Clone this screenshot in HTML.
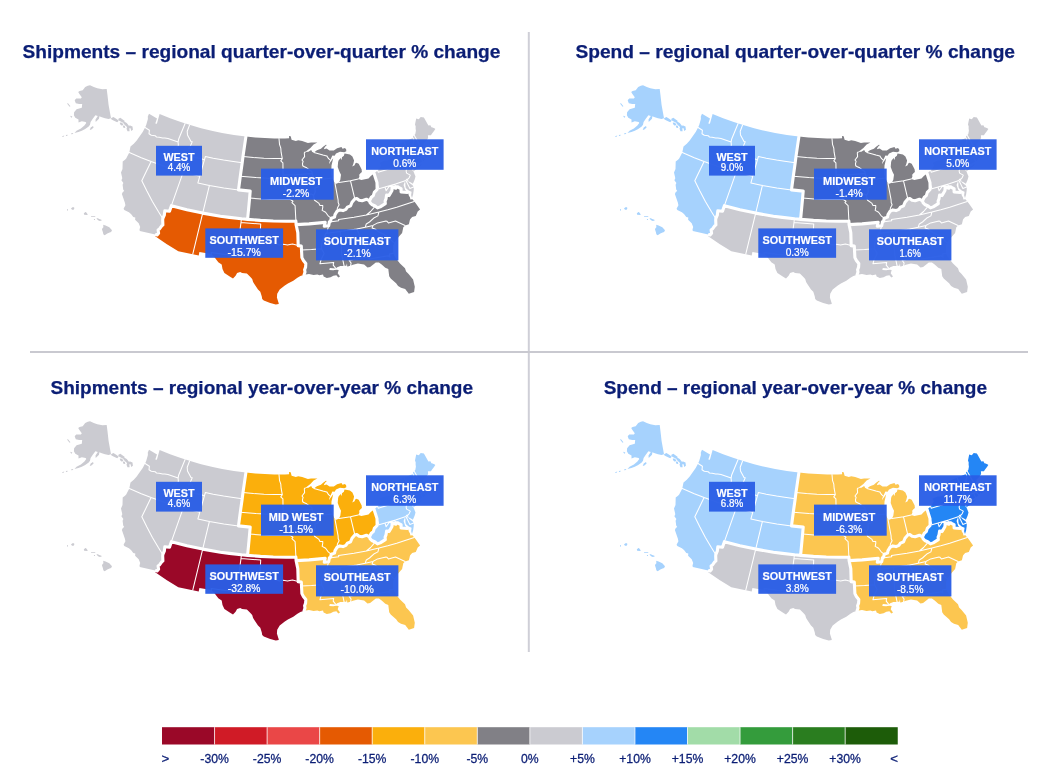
<!DOCTYPE html><html lang="en"><head><meta charset="utf-8"><title>Regional % change maps</title>
<style>html,body{margin:0;padding:0;background:#fff}body{width:1047px;height:780px;overflow:hidden}svg{display:block}text{font-family:"Liberation Sans",Arial,sans-serif}.t{font-weight:700;font-size:18.5px;fill:#0b1e75;stroke:#0b1e75;stroke-width:.25}.ln{font-weight:700;font-size:10.8px;fill:#fff;text-anchor:middle;stroke:#fff;stroke-width:.15}.lv{font-size:10.6px;fill:#fff;text-anchor:middle;stroke:#fff;stroke-width:.22}.lg{font-size:13.3px;fill:#0b1e75;stroke:#0b1e75;stroke-width:.3}.thin{fill:none;stroke:#fff;stroke-width:1.05;stroke-linejoin:round;stroke-linecap:round}.thick{fill:none;stroke:#fff;stroke-width:3.1;stroke-linejoin:round;stroke-linecap:round}.box{fill:#2a5ee6;fill-opacity:.96}</style></head><body>
<svg width="1047" height="780" viewBox="0 0 1047 780">
<rect width="1047" height="780" fill="#fff"/>
<rect x="527.8" y="32" width="2" height="620" fill="#cfcfd7"/>
<rect x="30" y="351" width="998" height="2" fill="#c9c9d0"/>
<g transform="translate(0,0)">
<path d="M156.4,234.7 139.8,231.0 139.5,229.6 140.2,227.0 138.7,223.3 135.1,219.7 135.3,217.6 133.3,217.0 131.0,214.0 128.9,212.2 124.3,210.0 123.6,208.7 125.4,205.2 124.9,202.8 121.9,194.1 122.8,191.9 124.2,191.1 123.2,189.5 122.6,184.8 123.4,183.0 121.4,180.3 122.3,178.3 121.0,172.6 122.5,168.9 122.7,161.6 125.0,159.8 126.2,158.4 129.3,152.5 130.5,146.6 133.8,143.8 136.7,140.5 142.7,132.0 145.1,127.5 146.2,125.1 147.9,118.9 147.8,116.6 149.0,113.7 157.0,118.6 155.3,123.6 156.9,123.8 159.6,114.0 170.1,118.3 180.8,122.1 191.9,125.6 201.1,128.2 212.7,131.1 222.1,133.0 233.9,135.0 245.9,136.6 238.5,189.9 250.2,191.1 247.6,219.4 226.4,217.0 208.6,214.2 190.1,210.4 171.4,205.7 169.5,211.3 164.8,210.8 164.3,215.2 162.8,218.7 162.7,220.2 162.9,225.0 161.7,225.8 159.7,228.7 158.1,229.9 158.6,233.2 157.1,234.9Z" fill="#CBCBD1"/>
<path d="M304.1,274.7 300.4,276.0 297.4,277.7 293.3,280.8 287.9,283.6 284.8,285.6 279.7,289.6 277.2,293.7 276.9,297.5 278.7,303.3 278.7,304.0 275.8,304.6 270.2,303.1 263.8,300.4 262.2,299.1 261.8,296.4 260.3,291.7 258.0,289.5 254.5,284.3 253.1,282.1 252.2,279.0 250.4,277.0 246.9,273.5 242.1,272.9 240.2,272.1 237.1,273.1 235.6,275.8 233.0,278.5 230.5,277.0 224.4,273.0 222.5,268.9 221.7,264.6 218.3,262.3 214.7,257.5 211.4,254.1 199.4,252.1 198.7,255.4 178.3,251.3 166.5,243.9 155.2,236.2 156.4,234.7 157.1,234.9 158.6,233.2 158.1,229.9 159.7,228.7 161.7,225.8 162.9,225.0 162.7,220.2 162.8,218.7 164.3,215.2 164.8,210.8 169.5,211.3 171.4,205.7 186.9,209.7 202.7,213.1 217.5,215.7 232.4,217.8 250.8,219.7 266.9,220.8 283.0,221.2 295.9,221.0 296.1,224.6 297.8,232.6 298.2,245.6 301.3,246.1 301.9,257.6 303.4,260.5 305.8,263.5 305.6,267.1 304.6,269.8 305.0,272.0Z" fill="#E55A02"/>
<path d="M245.9,136.6 255.3,137.5 264.7,138.1 274.2,138.4 285.0,138.4 289.1,138.3 289.0,135.9 290.7,136.3 291.6,139.8 295.8,140.9 298.2,140.3 302.2,141.1 307.9,143.1 311.1,142.6 317.4,142.5 313.6,144.6 310.4,147.9 305.2,152.0 308.3,151.8 311.2,150.1 312.2,152.0 314.0,152.4 316.9,150.3 320.9,148.8 323.1,146.7 325.9,144.8 326.8,145.1 324.8,147.1 323.8,149.2 326.6,148.5 329.5,150.4 333.8,150.4 337.1,148.3 341.5,146.9 342.5,148.7 345.0,148.0 346.2,149.5 346.3,151.2 344.3,152.3 340.0,151.8 336.0,153.6 334.6,155.7 332.4,155.4 329.7,161.3 328.8,164.2 333.2,158.3 331.5,165.5 331.2,174.4 332.4,178.1 334.4,182.5 335.0,183.4 336.4,183.8 338.6,182.8 339.0,182.4 340.3,179.7 341.0,174.7 339.5,171.8 337.7,167.0 338.1,162.1 338.7,160.2 340.8,157.9 341.6,160.3 342.0,157.2 343.9,155.8 344.5,153.5 346.0,153.7 349.9,154.5 352.4,156.5 354.1,160.6 353.5,163.3 352.3,166.4 354.6,165.3 355.2,163.5 356.5,162.7 358.7,163.7 361.6,169.3 361.9,171.9 360.2,173.4 359.2,174.8 359.4,176.8 358.2,179.0 361.4,180.0 368.5,178.4 370.8,176.0 374.1,173.5 377.0,182.6 377.1,189.5 374.3,192.4 373.3,195.6 371.3,197.2 369.5,200.8 366.4,199.2 362.1,200.7 359.1,200.3 356.8,198.5 354.8,198.9 352.0,202.2 350.6,205.8 347.4,207.2 345.9,209.3 343.0,210.6 339.8,209.9 337.0,211.4 335.0,214.6 334.5,217.1 331.2,218.2 330.6,221.1 329.4,221.9 328.7,225.7 324.3,226.2 325.2,222.4 309.1,223.9 296.1,224.6 295.9,221.0 286.2,221.2 273.3,221.0 260.5,220.4 247.6,219.4 250.2,191.1 238.5,189.9Z" fill="#818086"/>
<path d="M407.4,192.5 408.3,193.4 408.9,195.7 409.9,197.3 410.4,199.4 412.4,199.2 415.9,203.5 420.1,209.4 417.7,211.6 415.8,216.0 412.1,216.9 410.0,219.6 408.9,224.2 405.1,225.4 403.3,227.3 402.1,233.0 399.2,236.2 396.4,239.7 394.3,242.8 393.2,245.7 393.3,253.3 394.5,255.9 396.6,259.3 400.0,263.6 405.0,268.2 406.1,271.5 408.6,274.0 413.1,279.6 414.8,286.8 414.1,291.9 408.8,293.8 405.2,289.0 401.0,287.7 398.1,286.0 396.1,283.3 390.7,278.6 389.2,276.2 388.3,268.9 385.3,267.7 381.7,264.6 378.9,262.5 375.8,262.5 370.1,267.0 367.5,267.4 364.1,264.5 357.9,263.6 352.9,264.8 348.7,266.3 347.2,266.5 347.0,263.3 346.3,265.7 344.1,265.8 343.0,266.1 340.4,266.1 337.2,267.3 335.8,268.4 329.8,268.1 329.3,269.9 333.1,270.2 336.4,269.7 338.7,270.1 337.7,273.3 340.0,276.5 338.3,277.5 336.4,275.2 333.4,275.7 330.6,277.2 326.8,278.0 323.6,276.4 323.0,274.5 319.3,275.2 317.4,274.6 313.6,275.0 309.0,273.9 304.1,274.7 305.0,272.0 304.6,269.8 305.6,267.1 305.8,263.5 303.4,260.5 301.9,257.6 301.3,246.1 298.2,245.6 297.8,232.6 296.1,224.6 309.1,223.9 325.2,222.4 324.3,226.2 328.7,225.7 329.4,221.9 330.6,221.1 331.2,218.2 334.5,217.1 335.0,214.6 337.0,211.4 339.8,209.9 343.0,210.6 345.9,209.3 347.4,207.2 350.6,205.8 352.0,202.2 354.8,198.9 356.8,198.5 359.1,200.3 362.1,200.7 366.4,199.2 369.5,200.8 370.0,202.6 371.8,204.5 375.1,206.0 377.5,207.9 380.2,206.9 385.3,203.6 385.1,201.1 386.0,198.9 386.6,195.0 389.1,195.6 392.0,190.4 392.1,187.0 395.9,188.2 396.0,186.7 397.8,186.9 399.5,188.0 401.1,188.6 401.1,192.0Z" fill="#818086"/>
<path d="M374.1,173.5 377.6,170.4 379.3,168.3 380.9,165.0 379.2,162.8 384.5,160.4 386.9,160.4 390.3,159.3 392.1,157.2 393.5,156.1 392.7,154.2 391.3,152.7 393.0,150.6 394.1,147.5 396.4,144.7 413.1,137.9 413.0,136.5 415.3,134.0 415.9,130.8 415.6,128.3 415.7,126.4 415.0,124.5 416.2,118.4 418.6,119.3 419.7,118.3 420.7,117.0 423.9,117.6 428.4,125.6 430.4,125.3 431.4,127.2 432.6,127.4 434.8,128.4 435.3,128.9 434.0,131.1 431.9,133.7 430.9,135.3 427.9,135.3 428.1,137.9 426.5,140.6 425.3,141.9 423.4,143.5 423.5,145.4 423.0,148.1 423.1,149.5 424.9,150.4 423.8,153.2 425.8,153.5 426.9,154.9 428.2,155.7 430.8,154.4 429.8,153.2 428.8,153.1 430.8,153.9 431.4,155.0 428.3,157.6 427.6,156.3 426.5,158.5 425.9,158.8 424.3,160.5 421.4,162.3 417.3,164.4 414.0,167.6 413.8,169.2 412.9,170.3 413.6,171.7 415.5,176.5 414.6,179.7 412.9,183.7 410.5,182.2 407.7,181.0 409.5,183.0 411.5,184.5 412.4,184.9 413.6,187.1 413.8,188.0 413.7,190.3 413.1,194.6 412.0,197.9 411.1,195.3 411.6,191.7 408.7,190.5 405.8,188.1 405.4,185.6 405.4,182.6 404.7,182.1 403.6,185.1 405.1,189.8 407.4,192.5 401.1,192.0 401.1,188.6 399.5,188.0 397.8,186.9 396.0,186.7 395.9,188.2 392.1,187.0 392.0,190.4 389.1,195.6 386.6,195.0 386.0,198.9 385.1,201.1 385.3,203.6 380.2,206.9 377.5,207.9 375.1,206.0 371.8,204.5 370.0,202.6 369.5,200.8 371.3,197.2 373.3,195.6 374.3,192.4 377.1,189.5 377.0,182.6ZM413.1,171.0 414.6,170.4 420.7,166.2 423.3,163.2 421.2,164.6 421.0,163.6 419.7,165.4 417.0,166.6 414.1,168.5 413.1,169.6Z" fill="#CBCBD1"/>
<path d="M90.0,85.3 93.8,87.1 97.3,88.2 102.4,89.3 106.7,89.0 107.4,94.6 108.6,104.9 110.0,112.7 111.0,118.3 108.5,119.1 105.0,118.3 101.1,117.0 99.4,116.3 99.0,118.7 95.7,122.0 95.5,119.6 97.8,115.9 95.4,115.3 92.8,118.7 90.6,122.1 90.0,124.7 88.7,126.4 85.2,129.0 81.8,130.7 78.4,132.0 74.5,132.9 76.6,130.7 80.9,128.6 84.4,125.6 86.3,123.0 85.7,122.1 81.8,121.3 78.5,122.6 78.5,119.6 75.3,117.8 73.9,115.3 74.1,112.2 76.6,109.2 81.8,107.7 82.2,104.1 79.2,104.1 75.8,103.2 74.7,100.2 76.2,98.5 80.9,98.5 81.8,97.2 79.6,94.2 78.2,92.0 79.6,91.0 82.7,90.3 85.2,86.9 87.8,85.8ZM89.7,130.0 90.7,127.5 93.0,126.0 93.6,127.5 91.4,129.6ZM111.0,118.3 113.4,117.1 116.6,119.1 118.8,120.8 117.2,122.3 114.0,120.8 111.5,119.6ZM118.1,118.9 120.3,117.7 122.4,119.2 124.8,121.1 123.2,122.8 120.7,121.6 118.9,120.6ZM119.8,122.5 122.2,122.8 123.4,125.1 121.3,125.6 120.0,124.0ZM124.1,121.6 126.7,123.0 128.7,125.6 127.0,127.1 124.8,125.1 123.2,123.0ZM122.7,125.4 124.8,125.7 125.3,128.0 123.4,127.8ZM127.4,126.1 130.1,125.4 132.5,126.6 132.9,129.7 131.2,130.9 130.6,128.3 129.3,128.3 129.6,131.2 127.5,131.2 126.5,128.7ZM67.0,103.4 68.0,103.2 70.4,106.2 69.6,106.7ZM70.4,115.7 72.3,116.5 71.9,117.7 70.6,117.0ZM71.0,133.5 73.2,132.9 73.0,134.0 71.3,134.3ZM65.9,135.0 67.6,134.7 67.4,135.7 66.0,135.9ZM62.2,136.3 64.2,135.5 63.9,136.4 62.4,137.0ZM67.0,209.3 68.0,209.1 67.8,210.7 67.2,210.7ZM71.0,208.4 72.4,207.2 74.1,207.2 74.3,208.8 73.2,209.9 71.8,209.4ZM83.8,213.6 85.3,211.9 86.1,212.3 87.8,214.5 87.1,214.9 84.2,214.8ZM91.0,216.2 95.2,216.0 95.3,216.7 91.2,216.9ZM93.9,219.1 94.9,219.0 95.0,219.9 94.0,220.0ZM96.5,218.2 97.8,218.2 99.2,219.1 101.4,219.8 101.7,220.6 99.8,221.0 98.1,220.2 96.9,219.1ZM103.2,224.7 105.6,225.6 109.3,227.2 112.0,230.3 111.1,231.9 109.6,232.6 107.3,233.5 104.7,235.2 103.3,234.2 103.0,232.5 102.0,229.6 102.4,228.2 103.4,227.3Z" fill="#CBCBD1"/>
<path class="thin" d="M145.1,127.5 149.4,130.2 149.0,133.7 151.3,135.2 155.1,135.7 156.5,137.0 159.2,137.3 162.6,137.9 164.8,138.0 168.0,138.6 178.1,142.1M185.1,123.5 178.6,139.3 178.1,142.1M178.1,142.1 178.4,145.7 175.8,148.4 172.5,151.6 172.6,153.8 167.0,167.2M129.3,152.5 141.3,157.7 151.1,161.6M151.1,161.6 167.0,167.2M167.0,167.2 183.2,172.1M183.2,172.1 199.8,176.2M151.1,161.6 141.8,180.8 146.9,191.1 152.4,201.4 158.5,211.8 162.8,218.7M183.2,172.1 171.4,205.7M209.4,185.4 202.7,213.1M199.8,176.2 197.9,182.9 209.4,185.4M209.4,185.4 223.8,187.9 238.5,189.9M199.8,176.2 204.4,159.9M204.4,159.9 202.2,158.9 198.0,157.9 194.3,157.3 192.9,153.8 192.0,148.3 188.7,148.4 190.2,146.5 192.2,141.8 191.0,141.6 187.5,134.9 187.2,131.2 189.6,125.0M204.4,159.9 205.4,156.5 213.2,158.2 223.6,160.1 231.6,161.3 242.2,162.7M202.7,213.1 192.7,254.3M211.4,254.1 211.1,252.4 223.8,254.2 236.6,255.6 241.0,222.4M241.0,222.4 241.4,218.8M241.0,222.4 260.7,224.1 259.9,238.3 261.9,239.6 269.4,241.8 272.9,242.0 276.3,243.8 279.5,245.1 283.3,244.3 287.5,245.0 292.4,244.0 298.2,245.6M243.0,156.4 253.5,157.5 263.9,158.2 274.4,158.5 282.3,158.6M279.0,138.5 279.5,144.3 280.8,148.2 281.1,152.2 282.3,158.6M282.3,158.6 280.8,160.9 282.9,162.9 283.1,175.1M283.1,175.1 282.3,177.9 283.2,182.0M240.3,176.2 255.9,177.6 271.5,178.4 274.4,180.1 277.8,179.6 281.2,181.0 283.2,182.0M283.2,182.0 286.5,190.7 287.0,193.9 287.5,195.4M287.5,195.4 290.5,199.5M249.6,198.1 261.2,198.9 270.0,199.4 281.7,199.6 290.5,199.5M290.5,199.5 293.0,201.2 291.9,202.7 295.1,205.7 295.9,221.0M283.1,175.1 296.3,174.7 312.2,173.5M287.5,195.4 298.3,195.0 311.7,194.1 313.6,195.5M305.2,152.0 304.3,152.8 304.6,156.6 302.0,160.0 303.1,161.3 302.5,163.7 302.7,165.7 304.4,166.8 306.7,167.8 309.4,170.0 311.8,171.5 312.2,173.5M312.2,173.5 313.0,176.6 316.3,180.1M316.3,180.1 318.0,182.1 319.6,184.5 317.8,187.1 315.0,188.1 315.2,192.3 313.6,195.5M313.6,195.5 314.0,198.7 314.6,200.3 318.7,203.1 320.0,205.5 322.7,205.4 322.8,207.2 322.2,210.4 325.6,212.2 328.5,216.2 331.2,218.2M316.3,180.1 332.4,178.1M314.0,152.4 322.9,154.9 326.8,155.9 328.6,158.7 330.3,160.2M335.0,183.4 338.1,199.9 338.2,202.5 339.1,204.7 337.4,208.1 337.0,211.4M339.0,182.4 350.5,180.8M350.5,180.8 358.2,179.0M350.5,180.8 354.8,198.9M328.7,225.7 327.6,229.5 327.1,232.3 325.7,233.4M325.7,233.4 324.3,237.3 322.3,241.2 321.4,245.7 321.6,248.7M321.6,248.7 324.1,253.5 321.1,259.6 319.9,263.8 333.7,262.4 333.2,265.1 335.8,268.4M301.5,250.0 311.6,249.5 321.6,248.7M329.4,221.9 338.7,220.7 338.5,219.4 354.0,217.2 366.4,215.0M366.4,215.0 370.6,211.5 373.5,208.2 375.1,206.0M366.4,215.0 378.9,212.1M378.9,212.1 387.8,209.8 396.7,207.2 414.2,201.5M378.9,212.1 377.9,215.9 374.3,217.7 369.5,222.0 366.3,224.0 365.2,227.2M365.2,227.2 356.8,229.0M356.8,229.0 339.7,231.6M339.7,231.6 325.7,233.4M339.7,231.6 340.5,232.3 341.7,254.6 344.1,265.8M356.8,229.0 363.2,243.6 365.4,246.8 366.3,252.7 367.7,257.0M367.7,257.0 349.1,260.3 351.1,263.1 350.6,265.6M367.7,257.0 369.2,259.1 388.4,255.8 389.9,257.0 389.4,254.1 393.3,253.3M394.3,242.8 391.6,240.7 387.9,237.0 383.8,234.4 378.4,231.7 374.9,229.0 372.1,227.9 373.1,225.4M365.2,227.2 373.1,225.4M373.1,225.4 377.6,222.9 386.0,221.1 386.8,221.2 388.4,222.9 395.5,221.0 405.1,225.4M396.0,186.7 394.9,185.0 392.3,185.1 391.3,186.5 389.2,186.4 386.1,190.7 385.0,187.1M379.0,188.8 385.0,187.1M385.0,187.1 395.5,183.9 405.9,180.4M377.0,182.6 379.0,188.8M405.9,180.4 406.6,179.2 407.7,179.1M407.7,181.0 407.7,179.1M405.9,180.4 409.9,188.5 413.6,187.1M407.7,179.1 409.1,177.8 410.3,175.1 406.6,173.1 406.1,170.9 407.3,167.5M407.3,167.5 404.8,166.6 402.1,164.6 388.9,169.1 378.2,172.2 377.6,170.4M407.3,167.5 412.6,168.1 412.9,170.3M414.0,167.6 414.3,165.9 413.7,165.5 411.7,160.6M411.7,160.6 410.9,155.6M410.9,155.6 408.5,150.2 407.8,150.5 406.3,146.7 404.0,141.6M410.9,155.6 415.1,154.1M415.1,154.1 421.1,151.7 422.1,150.0 423.1,149.5M415.1,154.1 413.7,150.4 412.8,144.0 414.1,141.2 413.1,137.9M411.7,160.6 420.7,157.1M420.7,157.1 422.9,156.1 425.9,158.8M420.7,157.1 422.6,161.6M423.0,148.1 420.6,146.6 414.2,135.2"/>
<path class="thick" d="M245.9,136.6 243.0,156.4M243.0,156.4 242.2,162.7M242.2,162.7 240.3,176.2M240.3,176.2 238.5,189.9M238.5,189.9 250.2,191.1 249.6,198.1M249.6,198.1 247.6,219.4M241.4,218.8 247.6,219.4M202.7,213.1 220.4,216.2 229.4,217.4 241.4,218.8M171.4,205.7 186.9,209.7 202.7,213.1M171.4,205.7 169.5,211.3 164.8,210.8 164.3,215.2 162.8,218.7M162.8,218.7 162.7,220.2 162.9,225.0 161.7,225.8 159.7,228.7 158.1,229.9 158.6,233.2 157.1,234.9 156.4,234.7M247.6,219.4 260.5,220.4 273.3,221.0 286.2,221.2 295.9,221.0M295.9,221.0 296.1,224.6M296.1,224.6 297.8,232.6 298.2,245.6M298.2,245.6 301.3,246.1 301.5,250.0M301.5,250.0 301.9,257.6 303.4,260.5 305.8,263.5 305.6,267.1 304.6,269.8 305.0,272.0 304.1,274.7M296.1,224.6 309.1,223.9 325.2,222.4 324.3,226.2 328.7,225.7M331.2,218.2 330.6,221.1 329.4,221.9M329.4,221.9 328.7,225.7M331.2,218.2 334.5,217.1 335.0,214.6 337.0,211.4M337.0,211.4 339.8,209.9 343.0,210.6 345.9,209.3 347.4,207.2 350.6,205.8 352.0,202.2 354.8,198.9M354.8,198.9 356.8,198.5 359.1,200.3 362.1,200.7 366.4,199.2 369.5,200.8M369.5,200.8 371.3,197.2 373.3,195.6 374.3,192.4 377.1,189.5 377.0,182.6M377.0,182.6 374.1,173.5M375.1,206.0 371.8,204.5 370.0,202.6 369.5,200.8M375.1,206.0 377.5,207.9 380.2,206.9 385.3,203.6 385.1,201.1 386.0,198.9 386.6,195.0 389.1,195.6 392.0,190.4 392.1,187.0 395.9,188.2 396.0,186.7M396.0,186.7 397.8,186.9 399.5,188.0 401.1,188.6 401.1,192.0 407.4,192.5"/>
<rect class="box" x="156.0" y="145.8" width="46.0" height="29.8"/>
<text class="ln" x="179.0" y="160.7" textLength="31.1" lengthAdjust="spacingAndGlyphs" style="font-size:10.48px">WEST</text>
<text class="lv" x="179.0" y="170.9" textLength="22.4" lengthAdjust="spacingAndGlyphs" style="font-size:10.28px">4.4%</text>
<rect class="box" x="261.0" y="168.6" width="72.7" height="31.1"/>
<text class="ln" x="296.1" y="184.7" textLength="52.1" lengthAdjust="spacingAndGlyphs">MIDWEST</text>
<text class="lv" x="296.1" y="196.8" textLength="26.5" lengthAdjust="spacingAndGlyphs">-2.2%</text>
<rect class="box" x="366.0" y="139.3" width="77.6" height="30.5"/>
<text class="ln" x="404.8" y="154.9" textLength="67.1" lengthAdjust="spacingAndGlyphs">NORTHEAST</text>
<text class="lv" x="404.8" y="166.8" textLength="23.1" lengthAdjust="spacingAndGlyphs">0.6%</text>
<rect class="box" x="205.3" y="228.4" width="77.8" height="29.4"/>
<text class="ln" x="244.2" y="243.8" textLength="69.4" lengthAdjust="spacingAndGlyphs">SOUTHWEST</text>
<text class="lv" x="244.2" y="255.7" textLength="33.3" lengthAdjust="spacingAndGlyphs">-15.7%</text>
<rect class="box" x="316.0" y="229.3" width="82.4" height="31.1"/>
<text class="ln" x="357.2" y="244.9" textLength="66.7" lengthAdjust="spacingAndGlyphs">SOUTHEAST</text>
<text class="lv" x="357.2" y="256.8" textLength="27.1" lengthAdjust="spacingAndGlyphs">-2.1%</text>
</g>
<text class="t" x="22.5" y="58.3" textLength="477.9" lengthAdjust="spacingAndGlyphs">Shipments – regional quarter-over-quarter % change</text>
<g transform="translate(553,0)">
<path d="M156.4,234.7 139.8,231.0 139.5,229.6 140.2,227.0 138.7,223.3 135.1,219.7 135.3,217.6 133.3,217.0 131.0,214.0 128.9,212.2 124.3,210.0 123.6,208.7 125.4,205.2 124.9,202.8 121.9,194.1 122.8,191.9 124.2,191.1 123.2,189.5 122.6,184.8 123.4,183.0 121.4,180.3 122.3,178.3 121.0,172.6 122.5,168.9 122.7,161.6 125.0,159.8 126.2,158.4 129.3,152.5 130.5,146.6 133.8,143.8 136.7,140.5 142.7,132.0 145.1,127.5 146.2,125.1 147.9,118.9 147.8,116.6 149.0,113.7 157.0,118.6 155.3,123.6 156.9,123.8 159.6,114.0 170.1,118.3 180.8,122.1 191.9,125.6 201.1,128.2 212.7,131.1 222.1,133.0 233.9,135.0 245.9,136.6 238.5,189.9 250.2,191.1 247.6,219.4 226.4,217.0 208.6,214.2 190.1,210.4 171.4,205.7 169.5,211.3 164.8,210.8 164.3,215.2 162.8,218.7 162.7,220.2 162.9,225.0 161.7,225.8 159.7,228.7 158.1,229.9 158.6,233.2 157.1,234.9Z" fill="#A6D2FD"/>
<path d="M304.1,274.7 300.4,276.0 297.4,277.7 293.3,280.8 287.9,283.6 284.8,285.6 279.7,289.6 277.2,293.7 276.9,297.5 278.7,303.3 278.7,304.0 275.8,304.6 270.2,303.1 263.8,300.4 262.2,299.1 261.8,296.4 260.3,291.7 258.0,289.5 254.5,284.3 253.1,282.1 252.2,279.0 250.4,277.0 246.9,273.5 242.1,272.9 240.2,272.1 237.1,273.1 235.6,275.8 233.0,278.5 230.5,277.0 224.4,273.0 222.5,268.9 221.7,264.6 218.3,262.3 214.7,257.5 211.4,254.1 199.4,252.1 198.7,255.4 178.3,251.3 166.5,243.9 155.2,236.2 156.4,234.7 157.1,234.9 158.6,233.2 158.1,229.9 159.7,228.7 161.7,225.8 162.9,225.0 162.7,220.2 162.8,218.7 164.3,215.2 164.8,210.8 169.5,211.3 171.4,205.7 186.9,209.7 202.7,213.1 217.5,215.7 232.4,217.8 250.8,219.7 266.9,220.8 283.0,221.2 295.9,221.0 296.1,224.6 297.8,232.6 298.2,245.6 301.3,246.1 301.9,257.6 303.4,260.5 305.8,263.5 305.6,267.1 304.6,269.8 305.0,272.0Z" fill="#CBCBD1"/>
<path d="M245.9,136.6 255.3,137.5 264.7,138.1 274.2,138.4 285.0,138.4 289.1,138.3 289.0,135.9 290.7,136.3 291.6,139.8 295.8,140.9 298.2,140.3 302.2,141.1 307.9,143.1 311.1,142.6 317.4,142.5 313.6,144.6 310.4,147.9 305.2,152.0 308.3,151.8 311.2,150.1 312.2,152.0 314.0,152.4 316.9,150.3 320.9,148.8 323.1,146.7 325.9,144.8 326.8,145.1 324.8,147.1 323.8,149.2 326.6,148.5 329.5,150.4 333.8,150.4 337.1,148.3 341.5,146.9 342.5,148.7 345.0,148.0 346.2,149.5 346.3,151.2 344.3,152.3 340.0,151.8 336.0,153.6 334.6,155.7 332.4,155.4 329.7,161.3 328.8,164.2 333.2,158.3 331.5,165.5 331.2,174.4 332.4,178.1 334.4,182.5 335.0,183.4 336.4,183.8 338.6,182.8 339.0,182.4 340.3,179.7 341.0,174.7 339.5,171.8 337.7,167.0 338.1,162.1 338.7,160.2 340.8,157.9 341.6,160.3 342.0,157.2 343.9,155.8 344.5,153.5 346.0,153.7 349.9,154.5 352.4,156.5 354.1,160.6 353.5,163.3 352.3,166.4 354.6,165.3 355.2,163.5 356.5,162.7 358.7,163.7 361.6,169.3 361.9,171.9 360.2,173.4 359.2,174.8 359.4,176.8 358.2,179.0 361.4,180.0 368.5,178.4 370.8,176.0 374.1,173.5 377.0,182.6 377.1,189.5 374.3,192.4 373.3,195.6 371.3,197.2 369.5,200.8 366.4,199.2 362.1,200.7 359.1,200.3 356.8,198.5 354.8,198.9 352.0,202.2 350.6,205.8 347.4,207.2 345.9,209.3 343.0,210.6 339.8,209.9 337.0,211.4 335.0,214.6 334.5,217.1 331.2,218.2 330.6,221.1 329.4,221.9 328.7,225.7 324.3,226.2 325.2,222.4 309.1,223.9 296.1,224.6 295.9,221.0 286.2,221.2 273.3,221.0 260.5,220.4 247.6,219.4 250.2,191.1 238.5,189.9Z" fill="#818086"/>
<path d="M407.4,192.5 408.3,193.4 408.9,195.7 409.9,197.3 410.4,199.4 412.4,199.2 415.9,203.5 420.1,209.4 417.7,211.6 415.8,216.0 412.1,216.9 410.0,219.6 408.9,224.2 405.1,225.4 403.3,227.3 402.1,233.0 399.2,236.2 396.4,239.7 394.3,242.8 393.2,245.7 393.3,253.3 394.5,255.9 396.6,259.3 400.0,263.6 405.0,268.2 406.1,271.5 408.6,274.0 413.1,279.6 414.8,286.8 414.1,291.9 408.8,293.8 405.2,289.0 401.0,287.7 398.1,286.0 396.1,283.3 390.7,278.6 389.2,276.2 388.3,268.9 385.3,267.7 381.7,264.6 378.9,262.5 375.8,262.5 370.1,267.0 367.5,267.4 364.1,264.5 357.9,263.6 352.9,264.8 348.7,266.3 347.2,266.5 347.0,263.3 346.3,265.7 344.1,265.8 343.0,266.1 340.4,266.1 337.2,267.3 335.8,268.4 329.8,268.1 329.3,269.9 333.1,270.2 336.4,269.7 338.7,270.1 337.7,273.3 340.0,276.5 338.3,277.5 336.4,275.2 333.4,275.7 330.6,277.2 326.8,278.0 323.6,276.4 323.0,274.5 319.3,275.2 317.4,274.6 313.6,275.0 309.0,273.9 304.1,274.7 305.0,272.0 304.6,269.8 305.6,267.1 305.8,263.5 303.4,260.5 301.9,257.6 301.3,246.1 298.2,245.6 297.8,232.6 296.1,224.6 309.1,223.9 325.2,222.4 324.3,226.2 328.7,225.7 329.4,221.9 330.6,221.1 331.2,218.2 334.5,217.1 335.0,214.6 337.0,211.4 339.8,209.9 343.0,210.6 345.9,209.3 347.4,207.2 350.6,205.8 352.0,202.2 354.8,198.9 356.8,198.5 359.1,200.3 362.1,200.7 366.4,199.2 369.5,200.8 370.0,202.6 371.8,204.5 375.1,206.0 377.5,207.9 380.2,206.9 385.3,203.6 385.1,201.1 386.0,198.9 386.6,195.0 389.1,195.6 392.0,190.4 392.1,187.0 395.9,188.2 396.0,186.7 397.8,186.9 399.5,188.0 401.1,188.6 401.1,192.0Z" fill="#CBCBD1"/>
<path d="M374.1,173.5 377.6,170.4 379.3,168.3 380.9,165.0 379.2,162.8 384.5,160.4 386.9,160.4 390.3,159.3 392.1,157.2 393.5,156.1 392.7,154.2 391.3,152.7 393.0,150.6 394.1,147.5 396.4,144.7 413.1,137.9 413.0,136.5 415.3,134.0 415.9,130.8 415.6,128.3 415.7,126.4 415.0,124.5 416.2,118.4 418.6,119.3 419.7,118.3 420.7,117.0 423.9,117.6 428.4,125.6 430.4,125.3 431.4,127.2 432.6,127.4 434.8,128.4 435.3,128.9 434.0,131.1 431.9,133.7 430.9,135.3 427.9,135.3 428.1,137.9 426.5,140.6 425.3,141.9 423.4,143.5 423.5,145.4 423.0,148.1 423.1,149.5 424.9,150.4 423.8,153.2 425.8,153.5 426.9,154.9 428.2,155.7 430.8,154.4 429.8,153.2 428.8,153.1 430.8,153.9 431.4,155.0 428.3,157.6 427.6,156.3 426.5,158.5 425.9,158.8 424.3,160.5 421.4,162.3 417.3,164.4 414.0,167.6 413.8,169.2 412.9,170.3 413.6,171.7 415.5,176.5 414.6,179.7 412.9,183.7 410.5,182.2 407.7,181.0 409.5,183.0 411.5,184.5 412.4,184.9 413.6,187.1 413.8,188.0 413.7,190.3 413.1,194.6 412.0,197.9 411.1,195.3 411.6,191.7 408.7,190.5 405.8,188.1 405.4,185.6 405.4,182.6 404.7,182.1 403.6,185.1 405.1,189.8 407.4,192.5 401.1,192.0 401.1,188.6 399.5,188.0 397.8,186.9 396.0,186.7 395.9,188.2 392.1,187.0 392.0,190.4 389.1,195.6 386.6,195.0 386.0,198.9 385.1,201.1 385.3,203.6 380.2,206.9 377.5,207.9 375.1,206.0 371.8,204.5 370.0,202.6 369.5,200.8 371.3,197.2 373.3,195.6 374.3,192.4 377.1,189.5 377.0,182.6ZM413.1,171.0 414.6,170.4 420.7,166.2 423.3,163.2 421.2,164.6 421.0,163.6 419.7,165.4 417.0,166.6 414.1,168.5 413.1,169.6Z" fill="#CBCBD1"/>
<path d="M90.0,85.3 93.8,87.1 97.3,88.2 102.4,89.3 106.7,89.0 107.4,94.6 108.6,104.9 110.0,112.7 111.0,118.3 108.5,119.1 105.0,118.3 101.1,117.0 99.4,116.3 99.0,118.7 95.7,122.0 95.5,119.6 97.8,115.9 95.4,115.3 92.8,118.7 90.6,122.1 90.0,124.7 88.7,126.4 85.2,129.0 81.8,130.7 78.4,132.0 74.5,132.9 76.6,130.7 80.9,128.6 84.4,125.6 86.3,123.0 85.7,122.1 81.8,121.3 78.5,122.6 78.5,119.6 75.3,117.8 73.9,115.3 74.1,112.2 76.6,109.2 81.8,107.7 82.2,104.1 79.2,104.1 75.8,103.2 74.7,100.2 76.2,98.5 80.9,98.5 81.8,97.2 79.6,94.2 78.2,92.0 79.6,91.0 82.7,90.3 85.2,86.9 87.8,85.8ZM89.7,130.0 90.7,127.5 93.0,126.0 93.6,127.5 91.4,129.6ZM111.0,118.3 113.4,117.1 116.6,119.1 118.8,120.8 117.2,122.3 114.0,120.8 111.5,119.6ZM118.1,118.9 120.3,117.7 122.4,119.2 124.8,121.1 123.2,122.8 120.7,121.6 118.9,120.6ZM119.8,122.5 122.2,122.8 123.4,125.1 121.3,125.6 120.0,124.0ZM124.1,121.6 126.7,123.0 128.7,125.6 127.0,127.1 124.8,125.1 123.2,123.0ZM122.7,125.4 124.8,125.7 125.3,128.0 123.4,127.8ZM127.4,126.1 130.1,125.4 132.5,126.6 132.9,129.7 131.2,130.9 130.6,128.3 129.3,128.3 129.6,131.2 127.5,131.2 126.5,128.7ZM67.0,103.4 68.0,103.2 70.4,106.2 69.6,106.7ZM70.4,115.7 72.3,116.5 71.9,117.7 70.6,117.0ZM71.0,133.5 73.2,132.9 73.0,134.0 71.3,134.3ZM65.9,135.0 67.6,134.7 67.4,135.7 66.0,135.9ZM62.2,136.3 64.2,135.5 63.9,136.4 62.4,137.0ZM67.0,209.3 68.0,209.1 67.8,210.7 67.2,210.7ZM71.0,208.4 72.4,207.2 74.1,207.2 74.3,208.8 73.2,209.9 71.8,209.4ZM83.8,213.6 85.3,211.9 86.1,212.3 87.8,214.5 87.1,214.9 84.2,214.8ZM91.0,216.2 95.2,216.0 95.3,216.7 91.2,216.9ZM93.9,219.1 94.9,219.0 95.0,219.9 94.0,220.0ZM96.5,218.2 97.8,218.2 99.2,219.1 101.4,219.8 101.7,220.6 99.8,221.0 98.1,220.2 96.9,219.1ZM103.2,224.7 105.6,225.6 109.3,227.2 112.0,230.3 111.1,231.9 109.6,232.6 107.3,233.5 104.7,235.2 103.3,234.2 103.0,232.5 102.0,229.6 102.4,228.2 103.4,227.3Z" fill="#A6D2FD"/>
<path class="thin" d="M145.1,127.5 149.4,130.2 149.0,133.7 151.3,135.2 155.1,135.7 156.5,137.0 159.2,137.3 162.6,137.9 164.8,138.0 168.0,138.6 178.1,142.1M185.1,123.5 178.6,139.3 178.1,142.1M178.1,142.1 178.4,145.7 175.8,148.4 172.5,151.6 172.6,153.8 167.0,167.2M129.3,152.5 141.3,157.7 151.1,161.6M151.1,161.6 167.0,167.2M167.0,167.2 183.2,172.1M183.2,172.1 199.8,176.2M151.1,161.6 141.8,180.8 146.9,191.1 152.4,201.4 158.5,211.8 162.8,218.7M183.2,172.1 171.4,205.7M209.4,185.4 202.7,213.1M199.8,176.2 197.9,182.9 209.4,185.4M209.4,185.4 223.8,187.9 238.5,189.9M199.8,176.2 204.4,159.9M204.4,159.9 202.2,158.9 198.0,157.9 194.3,157.3 192.9,153.8 192.0,148.3 188.7,148.4 190.2,146.5 192.2,141.8 191.0,141.6 187.5,134.9 187.2,131.2 189.6,125.0M204.4,159.9 205.4,156.5 213.2,158.2 223.6,160.1 231.6,161.3 242.2,162.7M202.7,213.1 192.7,254.3M211.4,254.1 211.1,252.4 223.8,254.2 236.6,255.6 241.0,222.4M241.0,222.4 241.4,218.8M241.0,222.4 260.7,224.1 259.9,238.3 261.9,239.6 269.4,241.8 272.9,242.0 276.3,243.8 279.5,245.1 283.3,244.3 287.5,245.0 292.4,244.0 298.2,245.6M243.0,156.4 253.5,157.5 263.9,158.2 274.4,158.5 282.3,158.6M279.0,138.5 279.5,144.3 280.8,148.2 281.1,152.2 282.3,158.6M282.3,158.6 280.8,160.9 282.9,162.9 283.1,175.1M283.1,175.1 282.3,177.9 283.2,182.0M240.3,176.2 255.9,177.6 271.5,178.4 274.4,180.1 277.8,179.6 281.2,181.0 283.2,182.0M283.2,182.0 286.5,190.7 287.0,193.9 287.5,195.4M287.5,195.4 290.5,199.5M249.6,198.1 261.2,198.9 270.0,199.4 281.7,199.6 290.5,199.5M290.5,199.5 293.0,201.2 291.9,202.7 295.1,205.7 295.9,221.0M283.1,175.1 296.3,174.7 312.2,173.5M287.5,195.4 298.3,195.0 311.7,194.1 313.6,195.5M305.2,152.0 304.3,152.8 304.6,156.6 302.0,160.0 303.1,161.3 302.5,163.7 302.7,165.7 304.4,166.8 306.7,167.8 309.4,170.0 311.8,171.5 312.2,173.5M312.2,173.5 313.0,176.6 316.3,180.1M316.3,180.1 318.0,182.1 319.6,184.5 317.8,187.1 315.0,188.1 315.2,192.3 313.6,195.5M313.6,195.5 314.0,198.7 314.6,200.3 318.7,203.1 320.0,205.5 322.7,205.4 322.8,207.2 322.2,210.4 325.6,212.2 328.5,216.2 331.2,218.2M316.3,180.1 332.4,178.1M314.0,152.4 322.9,154.9 326.8,155.9 328.6,158.7 330.3,160.2M335.0,183.4 338.1,199.9 338.2,202.5 339.1,204.7 337.4,208.1 337.0,211.4M339.0,182.4 350.5,180.8M350.5,180.8 358.2,179.0M350.5,180.8 354.8,198.9M328.7,225.7 327.6,229.5 327.1,232.3 325.7,233.4M325.7,233.4 324.3,237.3 322.3,241.2 321.4,245.7 321.6,248.7M321.6,248.7 324.1,253.5 321.1,259.6 319.9,263.8 333.7,262.4 333.2,265.1 335.8,268.4M301.5,250.0 311.6,249.5 321.6,248.7M329.4,221.9 338.7,220.7 338.5,219.4 354.0,217.2 366.4,215.0M366.4,215.0 370.6,211.5 373.5,208.2 375.1,206.0M366.4,215.0 378.9,212.1M378.9,212.1 387.8,209.8 396.7,207.2 414.2,201.5M378.9,212.1 377.9,215.9 374.3,217.7 369.5,222.0 366.3,224.0 365.2,227.2M365.2,227.2 356.8,229.0M356.8,229.0 339.7,231.6M339.7,231.6 325.7,233.4M339.7,231.6 340.5,232.3 341.7,254.6 344.1,265.8M356.8,229.0 363.2,243.6 365.4,246.8 366.3,252.7 367.7,257.0M367.7,257.0 349.1,260.3 351.1,263.1 350.6,265.6M367.7,257.0 369.2,259.1 388.4,255.8 389.9,257.0 389.4,254.1 393.3,253.3M394.3,242.8 391.6,240.7 387.9,237.0 383.8,234.4 378.4,231.7 374.9,229.0 372.1,227.9 373.1,225.4M365.2,227.2 373.1,225.4M373.1,225.4 377.6,222.9 386.0,221.1 386.8,221.2 388.4,222.9 395.5,221.0 405.1,225.4M396.0,186.7 394.9,185.0 392.3,185.1 391.3,186.5 389.2,186.4 386.1,190.7 385.0,187.1M379.0,188.8 385.0,187.1M385.0,187.1 395.5,183.9 405.9,180.4M377.0,182.6 379.0,188.8M405.9,180.4 406.6,179.2 407.7,179.1M407.7,181.0 407.7,179.1M405.9,180.4 409.9,188.5 413.6,187.1M407.7,179.1 409.1,177.8 410.3,175.1 406.6,173.1 406.1,170.9 407.3,167.5M407.3,167.5 404.8,166.6 402.1,164.6 388.9,169.1 378.2,172.2 377.6,170.4M407.3,167.5 412.6,168.1 412.9,170.3M414.0,167.6 414.3,165.9 413.7,165.5 411.7,160.6M411.7,160.6 410.9,155.6M410.9,155.6 408.5,150.2 407.8,150.5 406.3,146.7 404.0,141.6M410.9,155.6 415.1,154.1M415.1,154.1 421.1,151.7 422.1,150.0 423.1,149.5M415.1,154.1 413.7,150.4 412.8,144.0 414.1,141.2 413.1,137.9M411.7,160.6 420.7,157.1M420.7,157.1 422.9,156.1 425.9,158.8M420.7,157.1 422.6,161.6M423.0,148.1 420.6,146.6 414.2,135.2"/>
<path class="thick" d="M245.9,136.6 243.0,156.4M243.0,156.4 242.2,162.7M242.2,162.7 240.3,176.2M240.3,176.2 238.5,189.9M238.5,189.9 250.2,191.1 249.6,198.1M249.6,198.1 247.6,219.4M241.4,218.8 247.6,219.4M202.7,213.1 220.4,216.2 229.4,217.4 241.4,218.8M171.4,205.7 186.9,209.7 202.7,213.1M171.4,205.7 169.5,211.3 164.8,210.8 164.3,215.2 162.8,218.7M162.8,218.7 162.7,220.2 162.9,225.0 161.7,225.8 159.7,228.7 158.1,229.9 158.6,233.2 157.1,234.9 156.4,234.7M247.6,219.4 260.5,220.4 273.3,221.0 286.2,221.2 295.9,221.0M295.9,221.0 296.1,224.6M296.1,224.6 297.8,232.6 298.2,245.6M298.2,245.6 301.3,246.1 301.5,250.0M301.5,250.0 301.9,257.6 303.4,260.5 305.8,263.5 305.6,267.1 304.6,269.8 305.0,272.0 304.1,274.7M296.1,224.6 309.1,223.9 325.2,222.4 324.3,226.2 328.7,225.7M331.2,218.2 330.6,221.1 329.4,221.9M329.4,221.9 328.7,225.7M331.2,218.2 334.5,217.1 335.0,214.6 337.0,211.4M337.0,211.4 339.8,209.9 343.0,210.6 345.9,209.3 347.4,207.2 350.6,205.8 352.0,202.2 354.8,198.9M354.8,198.9 356.8,198.5 359.1,200.3 362.1,200.7 366.4,199.2 369.5,200.8M369.5,200.8 371.3,197.2 373.3,195.6 374.3,192.4 377.1,189.5 377.0,182.6M377.0,182.6 374.1,173.5M375.1,206.0 371.8,204.5 370.0,202.6 369.5,200.8M375.1,206.0 377.5,207.9 380.2,206.9 385.3,203.6 385.1,201.1 386.0,198.9 386.6,195.0 389.1,195.6 392.0,190.4 392.1,187.0 395.9,188.2 396.0,186.7M396.0,186.7 397.8,186.9 399.5,188.0 401.1,188.6 401.1,192.0 407.4,192.5"/>
<rect class="box" x="156.0" y="145.8" width="46.0" height="29.8"/>
<text class="ln" x="179.0" y="160.7" textLength="31.1" lengthAdjust="spacingAndGlyphs" style="font-size:10.48px">WEST</text>
<text class="lv" x="179.0" y="170.9" textLength="22.4" lengthAdjust="spacingAndGlyphs" style="font-size:10.28px">9.0%</text>
<rect class="box" x="261.0" y="168.6" width="72.7" height="31.1"/>
<text class="ln" x="296.1" y="184.7" textLength="52.1" lengthAdjust="spacingAndGlyphs">MIDWEST</text>
<text class="lv" x="296.1" y="196.8" textLength="27.1" lengthAdjust="spacingAndGlyphs">-1.4%</text>
<rect class="box" x="366.0" y="139.3" width="77.6" height="30.5"/>
<text class="ln" x="404.8" y="154.9" textLength="67.1" lengthAdjust="spacingAndGlyphs">NORTHEAST</text>
<text class="lv" x="404.8" y="166.8" textLength="23.1" lengthAdjust="spacingAndGlyphs">5.0%</text>
<rect class="box" x="205.3" y="228.4" width="77.8" height="29.4"/>
<text class="ln" x="244.2" y="243.8" textLength="69.4" lengthAdjust="spacingAndGlyphs">SOUTHWEST</text>
<text class="lv" x="244.2" y="255.7" textLength="23.1" lengthAdjust="spacingAndGlyphs">0.3%</text>
<rect class="box" x="316.0" y="229.3" width="82.4" height="31.1"/>
<text class="ln" x="357.2" y="244.9" textLength="66.7" lengthAdjust="spacingAndGlyphs">SOUTHEAST</text>
<text class="lv" x="357.2" y="256.8" textLength="21.5" lengthAdjust="spacingAndGlyphs">1.6%</text>
</g>
<text class="t" x="575.5" y="58.3" textLength="439.5" lengthAdjust="spacingAndGlyphs">Spend – regional quarter-over-quarter % change</text>
<g transform="translate(0,336)">
<path d="M156.4,234.7 139.8,231.0 139.5,229.6 140.2,227.0 138.7,223.3 135.1,219.7 135.3,217.6 133.3,217.0 131.0,214.0 128.9,212.2 124.3,210.0 123.6,208.7 125.4,205.2 124.9,202.8 121.9,194.1 122.8,191.9 124.2,191.1 123.2,189.5 122.6,184.8 123.4,183.0 121.4,180.3 122.3,178.3 121.0,172.6 122.5,168.9 122.7,161.6 125.0,159.8 126.2,158.4 129.3,152.5 130.5,146.6 133.8,143.8 136.7,140.5 142.7,132.0 145.1,127.5 146.2,125.1 147.9,118.9 147.8,116.6 149.0,113.7 157.0,118.6 155.3,123.6 156.9,123.8 159.6,114.0 170.1,118.3 180.8,122.1 191.9,125.6 201.1,128.2 212.7,131.1 222.1,133.0 233.9,135.0 245.9,136.6 238.5,189.9 250.2,191.1 247.6,219.4 226.4,217.0 208.6,214.2 190.1,210.4 171.4,205.7 169.5,211.3 164.8,210.8 164.3,215.2 162.8,218.7 162.7,220.2 162.9,225.0 161.7,225.8 159.7,228.7 158.1,229.9 158.6,233.2 157.1,234.9Z" fill="#CBCBD1"/>
<path d="M304.1,274.7 300.4,276.0 297.4,277.7 293.3,280.8 287.9,283.6 284.8,285.6 279.7,289.6 277.2,293.7 276.9,297.5 278.7,303.3 278.7,304.0 275.8,304.6 270.2,303.1 263.8,300.4 262.2,299.1 261.8,296.4 260.3,291.7 258.0,289.5 254.5,284.3 253.1,282.1 252.2,279.0 250.4,277.0 246.9,273.5 242.1,272.9 240.2,272.1 237.1,273.1 235.6,275.8 233.0,278.5 230.5,277.0 224.4,273.0 222.5,268.9 221.7,264.6 218.3,262.3 214.7,257.5 211.4,254.1 199.4,252.1 198.7,255.4 178.3,251.3 166.5,243.9 155.2,236.2 156.4,234.7 157.1,234.9 158.6,233.2 158.1,229.9 159.7,228.7 161.7,225.8 162.9,225.0 162.7,220.2 162.8,218.7 164.3,215.2 164.8,210.8 169.5,211.3 171.4,205.7 186.9,209.7 202.7,213.1 217.5,215.7 232.4,217.8 250.8,219.7 266.9,220.8 283.0,221.2 295.9,221.0 296.1,224.6 297.8,232.6 298.2,245.6 301.3,246.1 301.9,257.6 303.4,260.5 305.8,263.5 305.6,267.1 304.6,269.8 305.0,272.0Z" fill="#9A0828"/>
<path d="M245.9,136.6 255.3,137.5 264.7,138.1 274.2,138.4 285.0,138.4 289.1,138.3 289.0,135.9 290.7,136.3 291.6,139.8 295.8,140.9 298.2,140.3 302.2,141.1 307.9,143.1 311.1,142.6 317.4,142.5 313.6,144.6 310.4,147.9 305.2,152.0 308.3,151.8 311.2,150.1 312.2,152.0 314.0,152.4 316.9,150.3 320.9,148.8 323.1,146.7 325.9,144.8 326.8,145.1 324.8,147.1 323.8,149.2 326.6,148.5 329.5,150.4 333.8,150.4 337.1,148.3 341.5,146.9 342.5,148.7 345.0,148.0 346.2,149.5 346.3,151.2 344.3,152.3 340.0,151.8 336.0,153.6 334.6,155.7 332.4,155.4 329.7,161.3 328.8,164.2 333.2,158.3 331.5,165.5 331.2,174.4 332.4,178.1 334.4,182.5 335.0,183.4 336.4,183.8 338.6,182.8 339.0,182.4 340.3,179.7 341.0,174.7 339.5,171.8 337.7,167.0 338.1,162.1 338.7,160.2 340.8,157.9 341.6,160.3 342.0,157.2 343.9,155.8 344.5,153.5 346.0,153.7 349.9,154.5 352.4,156.5 354.1,160.6 353.5,163.3 352.3,166.4 354.6,165.3 355.2,163.5 356.5,162.7 358.7,163.7 361.6,169.3 361.9,171.9 360.2,173.4 359.2,174.8 359.4,176.8 358.2,179.0 361.4,180.0 368.5,178.4 370.8,176.0 374.1,173.5 377.0,182.6 377.1,189.5 374.3,192.4 373.3,195.6 371.3,197.2 369.5,200.8 366.4,199.2 362.1,200.7 359.1,200.3 356.8,198.5 354.8,198.9 352.0,202.2 350.6,205.8 347.4,207.2 345.9,209.3 343.0,210.6 339.8,209.9 337.0,211.4 335.0,214.6 334.5,217.1 331.2,218.2 330.6,221.1 329.4,221.9 328.7,225.7 324.3,226.2 325.2,222.4 309.1,223.9 296.1,224.6 295.9,221.0 286.2,221.2 273.3,221.0 260.5,220.4 247.6,219.4 250.2,191.1 238.5,189.9Z" fill="#FBAF0C"/>
<path d="M407.4,192.5 408.3,193.4 408.9,195.7 409.9,197.3 410.4,199.4 412.4,199.2 415.9,203.5 420.1,209.4 417.7,211.6 415.8,216.0 412.1,216.9 410.0,219.6 408.9,224.2 405.1,225.4 403.3,227.3 402.1,233.0 399.2,236.2 396.4,239.7 394.3,242.8 393.2,245.7 393.3,253.3 394.5,255.9 396.6,259.3 400.0,263.6 405.0,268.2 406.1,271.5 408.6,274.0 413.1,279.6 414.8,286.8 414.1,291.9 408.8,293.8 405.2,289.0 401.0,287.7 398.1,286.0 396.1,283.3 390.7,278.6 389.2,276.2 388.3,268.9 385.3,267.7 381.7,264.6 378.9,262.5 375.8,262.5 370.1,267.0 367.5,267.4 364.1,264.5 357.9,263.6 352.9,264.8 348.7,266.3 347.2,266.5 347.0,263.3 346.3,265.7 344.1,265.8 343.0,266.1 340.4,266.1 337.2,267.3 335.8,268.4 329.8,268.1 329.3,269.9 333.1,270.2 336.4,269.7 338.7,270.1 337.7,273.3 340.0,276.5 338.3,277.5 336.4,275.2 333.4,275.7 330.6,277.2 326.8,278.0 323.6,276.4 323.0,274.5 319.3,275.2 317.4,274.6 313.6,275.0 309.0,273.9 304.1,274.7 305.0,272.0 304.6,269.8 305.6,267.1 305.8,263.5 303.4,260.5 301.9,257.6 301.3,246.1 298.2,245.6 297.8,232.6 296.1,224.6 309.1,223.9 325.2,222.4 324.3,226.2 328.7,225.7 329.4,221.9 330.6,221.1 331.2,218.2 334.5,217.1 335.0,214.6 337.0,211.4 339.8,209.9 343.0,210.6 345.9,209.3 347.4,207.2 350.6,205.8 352.0,202.2 354.8,198.9 356.8,198.5 359.1,200.3 362.1,200.7 366.4,199.2 369.5,200.8 370.0,202.6 371.8,204.5 375.1,206.0 377.5,207.9 380.2,206.9 385.3,203.6 385.1,201.1 386.0,198.9 386.6,195.0 389.1,195.6 392.0,190.4 392.1,187.0 395.9,188.2 396.0,186.7 397.8,186.9 399.5,188.0 401.1,188.6 401.1,192.0Z" fill="#FCC650"/>
<path d="M374.1,173.5 377.6,170.4 379.3,168.3 380.9,165.0 379.2,162.8 384.5,160.4 386.9,160.4 390.3,159.3 392.1,157.2 393.5,156.1 392.7,154.2 391.3,152.7 393.0,150.6 394.1,147.5 396.4,144.7 413.1,137.9 413.0,136.5 415.3,134.0 415.9,130.8 415.6,128.3 415.7,126.4 415.0,124.5 416.2,118.4 418.6,119.3 419.7,118.3 420.7,117.0 423.9,117.6 428.4,125.6 430.4,125.3 431.4,127.2 432.6,127.4 434.8,128.4 435.3,128.9 434.0,131.1 431.9,133.7 430.9,135.3 427.9,135.3 428.1,137.9 426.5,140.6 425.3,141.9 423.4,143.5 423.5,145.4 423.0,148.1 423.1,149.5 424.9,150.4 423.8,153.2 425.8,153.5 426.9,154.9 428.2,155.7 430.8,154.4 429.8,153.2 428.8,153.1 430.8,153.9 431.4,155.0 428.3,157.6 427.6,156.3 426.5,158.5 425.9,158.8 424.3,160.5 421.4,162.3 417.3,164.4 414.0,167.6 413.8,169.2 412.9,170.3 413.6,171.7 415.5,176.5 414.6,179.7 412.9,183.7 410.5,182.2 407.7,181.0 409.5,183.0 411.5,184.5 412.4,184.9 413.6,187.1 413.8,188.0 413.7,190.3 413.1,194.6 412.0,197.9 411.1,195.3 411.6,191.7 408.7,190.5 405.8,188.1 405.4,185.6 405.4,182.6 404.7,182.1 403.6,185.1 405.1,189.8 407.4,192.5 401.1,192.0 401.1,188.6 399.5,188.0 397.8,186.9 396.0,186.7 395.9,188.2 392.1,187.0 392.0,190.4 389.1,195.6 386.6,195.0 386.0,198.9 385.1,201.1 385.3,203.6 380.2,206.9 377.5,207.9 375.1,206.0 371.8,204.5 370.0,202.6 369.5,200.8 371.3,197.2 373.3,195.6 374.3,192.4 377.1,189.5 377.0,182.6ZM413.1,171.0 414.6,170.4 420.7,166.2 423.3,163.2 421.2,164.6 421.0,163.6 419.7,165.4 417.0,166.6 414.1,168.5 413.1,169.6Z" fill="#A6D2FD"/>
<path d="M90.0,85.3 93.8,87.1 97.3,88.2 102.4,89.3 106.7,89.0 107.4,94.6 108.6,104.9 110.0,112.7 111.0,118.3 108.5,119.1 105.0,118.3 101.1,117.0 99.4,116.3 99.0,118.7 95.7,122.0 95.5,119.6 97.8,115.9 95.4,115.3 92.8,118.7 90.6,122.1 90.0,124.7 88.7,126.4 85.2,129.0 81.8,130.7 78.4,132.0 74.5,132.9 76.6,130.7 80.9,128.6 84.4,125.6 86.3,123.0 85.7,122.1 81.8,121.3 78.5,122.6 78.5,119.6 75.3,117.8 73.9,115.3 74.1,112.2 76.6,109.2 81.8,107.7 82.2,104.1 79.2,104.1 75.8,103.2 74.7,100.2 76.2,98.5 80.9,98.5 81.8,97.2 79.6,94.2 78.2,92.0 79.6,91.0 82.7,90.3 85.2,86.9 87.8,85.8ZM89.7,130.0 90.7,127.5 93.0,126.0 93.6,127.5 91.4,129.6ZM111.0,118.3 113.4,117.1 116.6,119.1 118.8,120.8 117.2,122.3 114.0,120.8 111.5,119.6ZM118.1,118.9 120.3,117.7 122.4,119.2 124.8,121.1 123.2,122.8 120.7,121.6 118.9,120.6ZM119.8,122.5 122.2,122.8 123.4,125.1 121.3,125.6 120.0,124.0ZM124.1,121.6 126.7,123.0 128.7,125.6 127.0,127.1 124.8,125.1 123.2,123.0ZM122.7,125.4 124.8,125.7 125.3,128.0 123.4,127.8ZM127.4,126.1 130.1,125.4 132.5,126.6 132.9,129.7 131.2,130.9 130.6,128.3 129.3,128.3 129.6,131.2 127.5,131.2 126.5,128.7ZM67.0,103.4 68.0,103.2 70.4,106.2 69.6,106.7ZM70.4,115.7 72.3,116.5 71.9,117.7 70.6,117.0ZM71.0,133.5 73.2,132.9 73.0,134.0 71.3,134.3ZM65.9,135.0 67.6,134.7 67.4,135.7 66.0,135.9ZM62.2,136.3 64.2,135.5 63.9,136.4 62.4,137.0ZM67.0,209.3 68.0,209.1 67.8,210.7 67.2,210.7ZM71.0,208.4 72.4,207.2 74.1,207.2 74.3,208.8 73.2,209.9 71.8,209.4ZM83.8,213.6 85.3,211.9 86.1,212.3 87.8,214.5 87.1,214.9 84.2,214.8ZM91.0,216.2 95.2,216.0 95.3,216.7 91.2,216.9ZM93.9,219.1 94.9,219.0 95.0,219.9 94.0,220.0ZM96.5,218.2 97.8,218.2 99.2,219.1 101.4,219.8 101.7,220.6 99.8,221.0 98.1,220.2 96.9,219.1ZM103.2,224.7 105.6,225.6 109.3,227.2 112.0,230.3 111.1,231.9 109.6,232.6 107.3,233.5 104.7,235.2 103.3,234.2 103.0,232.5 102.0,229.6 102.4,228.2 103.4,227.3Z" fill="#CBCBD1"/>
<path class="thin" d="M145.1,127.5 149.4,130.2 149.0,133.7 151.3,135.2 155.1,135.7 156.5,137.0 159.2,137.3 162.6,137.9 164.8,138.0 168.0,138.6 178.1,142.1M185.1,123.5 178.6,139.3 178.1,142.1M178.1,142.1 178.4,145.7 175.8,148.4 172.5,151.6 172.6,153.8 167.0,167.2M129.3,152.5 141.3,157.7 151.1,161.6M151.1,161.6 167.0,167.2M167.0,167.2 183.2,172.1M183.2,172.1 199.8,176.2M151.1,161.6 141.8,180.8 146.9,191.1 152.4,201.4 158.5,211.8 162.8,218.7M183.2,172.1 171.4,205.7M209.4,185.4 202.7,213.1M199.8,176.2 197.9,182.9 209.4,185.4M209.4,185.4 223.8,187.9 238.5,189.9M199.8,176.2 204.4,159.9M204.4,159.9 202.2,158.9 198.0,157.9 194.3,157.3 192.9,153.8 192.0,148.3 188.7,148.4 190.2,146.5 192.2,141.8 191.0,141.6 187.5,134.9 187.2,131.2 189.6,125.0M204.4,159.9 205.4,156.5 213.2,158.2 223.6,160.1 231.6,161.3 242.2,162.7M202.7,213.1 192.7,254.3M211.4,254.1 211.1,252.4 223.8,254.2 236.6,255.6 241.0,222.4M241.0,222.4 241.4,218.8M241.0,222.4 260.7,224.1 259.9,238.3 261.9,239.6 269.4,241.8 272.9,242.0 276.3,243.8 279.5,245.1 283.3,244.3 287.5,245.0 292.4,244.0 298.2,245.6M243.0,156.4 253.5,157.5 263.9,158.2 274.4,158.5 282.3,158.6M279.0,138.5 279.5,144.3 280.8,148.2 281.1,152.2 282.3,158.6M282.3,158.6 280.8,160.9 282.9,162.9 283.1,175.1M283.1,175.1 282.3,177.9 283.2,182.0M240.3,176.2 255.9,177.6 271.5,178.4 274.4,180.1 277.8,179.6 281.2,181.0 283.2,182.0M283.2,182.0 286.5,190.7 287.0,193.9 287.5,195.4M287.5,195.4 290.5,199.5M249.6,198.1 261.2,198.9 270.0,199.4 281.7,199.6 290.5,199.5M290.5,199.5 293.0,201.2 291.9,202.7 295.1,205.7 295.9,221.0M283.1,175.1 296.3,174.7 312.2,173.5M287.5,195.4 298.3,195.0 311.7,194.1 313.6,195.5M305.2,152.0 304.3,152.8 304.6,156.6 302.0,160.0 303.1,161.3 302.5,163.7 302.7,165.7 304.4,166.8 306.7,167.8 309.4,170.0 311.8,171.5 312.2,173.5M312.2,173.5 313.0,176.6 316.3,180.1M316.3,180.1 318.0,182.1 319.6,184.5 317.8,187.1 315.0,188.1 315.2,192.3 313.6,195.5M313.6,195.5 314.0,198.7 314.6,200.3 318.7,203.1 320.0,205.5 322.7,205.4 322.8,207.2 322.2,210.4 325.6,212.2 328.5,216.2 331.2,218.2M316.3,180.1 332.4,178.1M314.0,152.4 322.9,154.9 326.8,155.9 328.6,158.7 330.3,160.2M335.0,183.4 338.1,199.9 338.2,202.5 339.1,204.7 337.4,208.1 337.0,211.4M339.0,182.4 350.5,180.8M350.5,180.8 358.2,179.0M350.5,180.8 354.8,198.9M328.7,225.7 327.6,229.5 327.1,232.3 325.7,233.4M325.7,233.4 324.3,237.3 322.3,241.2 321.4,245.7 321.6,248.7M321.6,248.7 324.1,253.5 321.1,259.6 319.9,263.8 333.7,262.4 333.2,265.1 335.8,268.4M301.5,250.0 311.6,249.5 321.6,248.7M329.4,221.9 338.7,220.7 338.5,219.4 354.0,217.2 366.4,215.0M366.4,215.0 370.6,211.5 373.5,208.2 375.1,206.0M366.4,215.0 378.9,212.1M378.9,212.1 387.8,209.8 396.7,207.2 414.2,201.5M378.9,212.1 377.9,215.9 374.3,217.7 369.5,222.0 366.3,224.0 365.2,227.2M365.2,227.2 356.8,229.0M356.8,229.0 339.7,231.6M339.7,231.6 325.7,233.4M339.7,231.6 340.5,232.3 341.7,254.6 344.1,265.8M356.8,229.0 363.2,243.6 365.4,246.8 366.3,252.7 367.7,257.0M367.7,257.0 349.1,260.3 351.1,263.1 350.6,265.6M367.7,257.0 369.2,259.1 388.4,255.8 389.9,257.0 389.4,254.1 393.3,253.3M394.3,242.8 391.6,240.7 387.9,237.0 383.8,234.4 378.4,231.7 374.9,229.0 372.1,227.9 373.1,225.4M365.2,227.2 373.1,225.4M373.1,225.4 377.6,222.9 386.0,221.1 386.8,221.2 388.4,222.9 395.5,221.0 405.1,225.4M396.0,186.7 394.9,185.0 392.3,185.1 391.3,186.5 389.2,186.4 386.1,190.7 385.0,187.1M379.0,188.8 385.0,187.1M385.0,187.1 395.5,183.9 405.9,180.4M377.0,182.6 379.0,188.8M405.9,180.4 406.6,179.2 407.7,179.1M407.7,181.0 407.7,179.1M405.9,180.4 409.9,188.5 413.6,187.1M407.7,179.1 409.1,177.8 410.3,175.1 406.6,173.1 406.1,170.9 407.3,167.5M407.3,167.5 404.8,166.6 402.1,164.6 388.9,169.1 378.2,172.2 377.6,170.4M407.3,167.5 412.6,168.1 412.9,170.3M414.0,167.6 414.3,165.9 413.7,165.5 411.7,160.6M411.7,160.6 410.9,155.6M410.9,155.6 408.5,150.2 407.8,150.5 406.3,146.7 404.0,141.6M410.9,155.6 415.1,154.1M415.1,154.1 421.1,151.7 422.1,150.0 423.1,149.5M415.1,154.1 413.7,150.4 412.8,144.0 414.1,141.2 413.1,137.9M411.7,160.6 420.7,157.1M420.7,157.1 422.9,156.1 425.9,158.8M420.7,157.1 422.6,161.6M423.0,148.1 420.6,146.6 414.2,135.2"/>
<path class="thick" d="M245.9,136.6 243.0,156.4M243.0,156.4 242.2,162.7M242.2,162.7 240.3,176.2M240.3,176.2 238.5,189.9M238.5,189.9 250.2,191.1 249.6,198.1M249.6,198.1 247.6,219.4M241.4,218.8 247.6,219.4M202.7,213.1 220.4,216.2 229.4,217.4 241.4,218.8M171.4,205.7 186.9,209.7 202.7,213.1M171.4,205.7 169.5,211.3 164.8,210.8 164.3,215.2 162.8,218.7M162.8,218.7 162.7,220.2 162.9,225.0 161.7,225.8 159.7,228.7 158.1,229.9 158.6,233.2 157.1,234.9 156.4,234.7M247.6,219.4 260.5,220.4 273.3,221.0 286.2,221.2 295.9,221.0M295.9,221.0 296.1,224.6M296.1,224.6 297.8,232.6 298.2,245.6M298.2,245.6 301.3,246.1 301.5,250.0M301.5,250.0 301.9,257.6 303.4,260.5 305.8,263.5 305.6,267.1 304.6,269.8 305.0,272.0 304.1,274.7M296.1,224.6 309.1,223.9 325.2,222.4 324.3,226.2 328.7,225.7M331.2,218.2 330.6,221.1 329.4,221.9M329.4,221.9 328.7,225.7M331.2,218.2 334.5,217.1 335.0,214.6 337.0,211.4M337.0,211.4 339.8,209.9 343.0,210.6 345.9,209.3 347.4,207.2 350.6,205.8 352.0,202.2 354.8,198.9M354.8,198.9 356.8,198.5 359.1,200.3 362.1,200.7 366.4,199.2 369.5,200.8M369.5,200.8 371.3,197.2 373.3,195.6 374.3,192.4 377.1,189.5 377.0,182.6M377.0,182.6 374.1,173.5M375.1,206.0 371.8,204.5 370.0,202.6 369.5,200.8M375.1,206.0 377.5,207.9 380.2,206.9 385.3,203.6 385.1,201.1 386.0,198.9 386.6,195.0 389.1,195.6 392.0,190.4 392.1,187.0 395.9,188.2 396.0,186.7M396.0,186.7 397.8,186.9 399.5,188.0 401.1,188.6 401.1,192.0 407.4,192.5"/>
<rect class="box" x="156.0" y="145.8" width="46.0" height="29.8"/>
<text class="ln" x="179.0" y="160.7" textLength="31.1" lengthAdjust="spacingAndGlyphs" style="font-size:10.48px">WEST</text>
<text class="lv" x="179.0" y="170.9" textLength="22.4" lengthAdjust="spacingAndGlyphs" style="font-size:10.28px">4.6%</text>
<rect class="box" x="261.0" y="168.6" width="72.7" height="31.1"/>
<text class="ln" x="296.1" y="184.7" textLength="54.6" lengthAdjust="spacingAndGlyphs">MID WEST</text>
<text class="lv" x="296.1" y="196.8" textLength="33.9" lengthAdjust="spacingAndGlyphs">-11.5%</text>
<rect class="box" x="366.0" y="139.3" width="77.6" height="30.5"/>
<text class="ln" x="404.8" y="154.9" textLength="67.1" lengthAdjust="spacingAndGlyphs">NORTHEAST</text>
<text class="lv" x="404.8" y="166.8" textLength="23.1" lengthAdjust="spacingAndGlyphs">6.3%</text>
<rect class="box" x="205.3" y="228.4" width="77.8" height="29.4"/>
<text class="ln" x="244.2" y="243.8" textLength="69.4" lengthAdjust="spacingAndGlyphs">SOUTHWEST</text>
<text class="lv" x="244.2" y="255.7" textLength="32.7" lengthAdjust="spacingAndGlyphs">-32.8%</text>
<rect class="box" x="316.0" y="229.3" width="82.4" height="31.1"/>
<text class="ln" x="357.2" y="244.9" textLength="66.7" lengthAdjust="spacingAndGlyphs">SOUTHEAST</text>
<text class="lv" x="357.2" y="256.8" textLength="33.3" lengthAdjust="spacingAndGlyphs">-10.0%</text>
</g>
<text class="t" x="50.5" y="394.3" textLength="422.5" lengthAdjust="spacingAndGlyphs">Shipments – regional year-over-year % change</text>
<g transform="translate(553,336)">
<path d="M156.4,234.7 139.8,231.0 139.5,229.6 140.2,227.0 138.7,223.3 135.1,219.7 135.3,217.6 133.3,217.0 131.0,214.0 128.9,212.2 124.3,210.0 123.6,208.7 125.4,205.2 124.9,202.8 121.9,194.1 122.8,191.9 124.2,191.1 123.2,189.5 122.6,184.8 123.4,183.0 121.4,180.3 122.3,178.3 121.0,172.6 122.5,168.9 122.7,161.6 125.0,159.8 126.2,158.4 129.3,152.5 130.5,146.6 133.8,143.8 136.7,140.5 142.7,132.0 145.1,127.5 146.2,125.1 147.9,118.9 147.8,116.6 149.0,113.7 157.0,118.6 155.3,123.6 156.9,123.8 159.6,114.0 170.1,118.3 180.8,122.1 191.9,125.6 201.1,128.2 212.7,131.1 222.1,133.0 233.9,135.0 245.9,136.6 238.5,189.9 250.2,191.1 247.6,219.4 226.4,217.0 208.6,214.2 190.1,210.4 171.4,205.7 169.5,211.3 164.8,210.8 164.3,215.2 162.8,218.7 162.7,220.2 162.9,225.0 161.7,225.8 159.7,228.7 158.1,229.9 158.6,233.2 157.1,234.9Z" fill="#A6D2FD"/>
<path d="M304.1,274.7 300.4,276.0 297.4,277.7 293.3,280.8 287.9,283.6 284.8,285.6 279.7,289.6 277.2,293.7 276.9,297.5 278.7,303.3 278.7,304.0 275.8,304.6 270.2,303.1 263.8,300.4 262.2,299.1 261.8,296.4 260.3,291.7 258.0,289.5 254.5,284.3 253.1,282.1 252.2,279.0 250.4,277.0 246.9,273.5 242.1,272.9 240.2,272.1 237.1,273.1 235.6,275.8 233.0,278.5 230.5,277.0 224.4,273.0 222.5,268.9 221.7,264.6 218.3,262.3 214.7,257.5 211.4,254.1 199.4,252.1 198.7,255.4 178.3,251.3 166.5,243.9 155.2,236.2 156.4,234.7 157.1,234.9 158.6,233.2 158.1,229.9 159.7,228.7 161.7,225.8 162.9,225.0 162.7,220.2 162.8,218.7 164.3,215.2 164.8,210.8 169.5,211.3 171.4,205.7 186.9,209.7 202.7,213.1 217.5,215.7 232.4,217.8 250.8,219.7 266.9,220.8 283.0,221.2 295.9,221.0 296.1,224.6 297.8,232.6 298.2,245.6 301.3,246.1 301.9,257.6 303.4,260.5 305.8,263.5 305.6,267.1 304.6,269.8 305.0,272.0Z" fill="#CBCBD1"/>
<path d="M245.9,136.6 255.3,137.5 264.7,138.1 274.2,138.4 285.0,138.4 289.1,138.3 289.0,135.9 290.7,136.3 291.6,139.8 295.8,140.9 298.2,140.3 302.2,141.1 307.9,143.1 311.1,142.6 317.4,142.5 313.6,144.6 310.4,147.9 305.2,152.0 308.3,151.8 311.2,150.1 312.2,152.0 314.0,152.4 316.9,150.3 320.9,148.8 323.1,146.7 325.9,144.8 326.8,145.1 324.8,147.1 323.8,149.2 326.6,148.5 329.5,150.4 333.8,150.4 337.1,148.3 341.5,146.9 342.5,148.7 345.0,148.0 346.2,149.5 346.3,151.2 344.3,152.3 340.0,151.8 336.0,153.6 334.6,155.7 332.4,155.4 329.7,161.3 328.8,164.2 333.2,158.3 331.5,165.5 331.2,174.4 332.4,178.1 334.4,182.5 335.0,183.4 336.4,183.8 338.6,182.8 339.0,182.4 340.3,179.7 341.0,174.7 339.5,171.8 337.7,167.0 338.1,162.1 338.7,160.2 340.8,157.9 341.6,160.3 342.0,157.2 343.9,155.8 344.5,153.5 346.0,153.7 349.9,154.5 352.4,156.5 354.1,160.6 353.5,163.3 352.3,166.4 354.6,165.3 355.2,163.5 356.5,162.7 358.7,163.7 361.6,169.3 361.9,171.9 360.2,173.4 359.2,174.8 359.4,176.8 358.2,179.0 361.4,180.0 368.5,178.4 370.8,176.0 374.1,173.5 377.0,182.6 377.1,189.5 374.3,192.4 373.3,195.6 371.3,197.2 369.5,200.8 366.4,199.2 362.1,200.7 359.1,200.3 356.8,198.5 354.8,198.9 352.0,202.2 350.6,205.8 347.4,207.2 345.9,209.3 343.0,210.6 339.8,209.9 337.0,211.4 335.0,214.6 334.5,217.1 331.2,218.2 330.6,221.1 329.4,221.9 328.7,225.7 324.3,226.2 325.2,222.4 309.1,223.9 296.1,224.6 295.9,221.0 286.2,221.2 273.3,221.0 260.5,220.4 247.6,219.4 250.2,191.1 238.5,189.9Z" fill="#FCC650"/>
<path d="M407.4,192.5 408.3,193.4 408.9,195.7 409.9,197.3 410.4,199.4 412.4,199.2 415.9,203.5 420.1,209.4 417.7,211.6 415.8,216.0 412.1,216.9 410.0,219.6 408.9,224.2 405.1,225.4 403.3,227.3 402.1,233.0 399.2,236.2 396.4,239.7 394.3,242.8 393.2,245.7 393.3,253.3 394.5,255.9 396.6,259.3 400.0,263.6 405.0,268.2 406.1,271.5 408.6,274.0 413.1,279.6 414.8,286.8 414.1,291.9 408.8,293.8 405.2,289.0 401.0,287.7 398.1,286.0 396.1,283.3 390.7,278.6 389.2,276.2 388.3,268.9 385.3,267.7 381.7,264.6 378.9,262.5 375.8,262.5 370.1,267.0 367.5,267.4 364.1,264.5 357.9,263.6 352.9,264.8 348.7,266.3 347.2,266.5 347.0,263.3 346.3,265.7 344.1,265.8 343.0,266.1 340.4,266.1 337.2,267.3 335.8,268.4 329.8,268.1 329.3,269.9 333.1,270.2 336.4,269.7 338.7,270.1 337.7,273.3 340.0,276.5 338.3,277.5 336.4,275.2 333.4,275.7 330.6,277.2 326.8,278.0 323.6,276.4 323.0,274.5 319.3,275.2 317.4,274.6 313.6,275.0 309.0,273.9 304.1,274.7 305.0,272.0 304.6,269.8 305.6,267.1 305.8,263.5 303.4,260.5 301.9,257.6 301.3,246.1 298.2,245.6 297.8,232.6 296.1,224.6 309.1,223.9 325.2,222.4 324.3,226.2 328.7,225.7 329.4,221.9 330.6,221.1 331.2,218.2 334.5,217.1 335.0,214.6 337.0,211.4 339.8,209.9 343.0,210.6 345.9,209.3 347.4,207.2 350.6,205.8 352.0,202.2 354.8,198.9 356.8,198.5 359.1,200.3 362.1,200.7 366.4,199.2 369.5,200.8 370.0,202.6 371.8,204.5 375.1,206.0 377.5,207.9 380.2,206.9 385.3,203.6 385.1,201.1 386.0,198.9 386.6,195.0 389.1,195.6 392.0,190.4 392.1,187.0 395.9,188.2 396.0,186.7 397.8,186.9 399.5,188.0 401.1,188.6 401.1,192.0Z" fill="#FCC650"/>
<path d="M374.1,173.5 377.6,170.4 379.3,168.3 380.9,165.0 379.2,162.8 384.5,160.4 386.9,160.4 390.3,159.3 392.1,157.2 393.5,156.1 392.7,154.2 391.3,152.7 393.0,150.6 394.1,147.5 396.4,144.7 413.1,137.9 413.0,136.5 415.3,134.0 415.9,130.8 415.6,128.3 415.7,126.4 415.0,124.5 416.2,118.4 418.6,119.3 419.7,118.3 420.7,117.0 423.9,117.6 428.4,125.6 430.4,125.3 431.4,127.2 432.6,127.4 434.8,128.4 435.3,128.9 434.0,131.1 431.9,133.7 430.9,135.3 427.9,135.3 428.1,137.9 426.5,140.6 425.3,141.9 423.4,143.5 423.5,145.4 423.0,148.1 423.1,149.5 424.9,150.4 423.8,153.2 425.8,153.5 426.9,154.9 428.2,155.7 430.8,154.4 429.8,153.2 428.8,153.1 430.8,153.9 431.4,155.0 428.3,157.6 427.6,156.3 426.5,158.5 425.9,158.8 424.3,160.5 421.4,162.3 417.3,164.4 414.0,167.6 413.8,169.2 412.9,170.3 413.6,171.7 415.5,176.5 414.6,179.7 412.9,183.7 410.5,182.2 407.7,181.0 409.5,183.0 411.5,184.5 412.4,184.9 413.6,187.1 413.8,188.0 413.7,190.3 413.1,194.6 412.0,197.9 411.1,195.3 411.6,191.7 408.7,190.5 405.8,188.1 405.4,185.6 405.4,182.6 404.7,182.1 403.6,185.1 405.1,189.8 407.4,192.5 401.1,192.0 401.1,188.6 399.5,188.0 397.8,186.9 396.0,186.7 395.9,188.2 392.1,187.0 392.0,190.4 389.1,195.6 386.6,195.0 386.0,198.9 385.1,201.1 385.3,203.6 380.2,206.9 377.5,207.9 375.1,206.0 371.8,204.5 370.0,202.6 369.5,200.8 371.3,197.2 373.3,195.6 374.3,192.4 377.1,189.5 377.0,182.6ZM413.1,171.0 414.6,170.4 420.7,166.2 423.3,163.2 421.2,164.6 421.0,163.6 419.7,165.4 417.0,166.6 414.1,168.5 413.1,169.6Z" fill="#2486F5"/>
<path d="M90.0,85.3 93.8,87.1 97.3,88.2 102.4,89.3 106.7,89.0 107.4,94.6 108.6,104.9 110.0,112.7 111.0,118.3 108.5,119.1 105.0,118.3 101.1,117.0 99.4,116.3 99.0,118.7 95.7,122.0 95.5,119.6 97.8,115.9 95.4,115.3 92.8,118.7 90.6,122.1 90.0,124.7 88.7,126.4 85.2,129.0 81.8,130.7 78.4,132.0 74.5,132.9 76.6,130.7 80.9,128.6 84.4,125.6 86.3,123.0 85.7,122.1 81.8,121.3 78.5,122.6 78.5,119.6 75.3,117.8 73.9,115.3 74.1,112.2 76.6,109.2 81.8,107.7 82.2,104.1 79.2,104.1 75.8,103.2 74.7,100.2 76.2,98.5 80.9,98.5 81.8,97.2 79.6,94.2 78.2,92.0 79.6,91.0 82.7,90.3 85.2,86.9 87.8,85.8ZM89.7,130.0 90.7,127.5 93.0,126.0 93.6,127.5 91.4,129.6ZM111.0,118.3 113.4,117.1 116.6,119.1 118.8,120.8 117.2,122.3 114.0,120.8 111.5,119.6ZM118.1,118.9 120.3,117.7 122.4,119.2 124.8,121.1 123.2,122.8 120.7,121.6 118.9,120.6ZM119.8,122.5 122.2,122.8 123.4,125.1 121.3,125.6 120.0,124.0ZM124.1,121.6 126.7,123.0 128.7,125.6 127.0,127.1 124.8,125.1 123.2,123.0ZM122.7,125.4 124.8,125.7 125.3,128.0 123.4,127.8ZM127.4,126.1 130.1,125.4 132.5,126.6 132.9,129.7 131.2,130.9 130.6,128.3 129.3,128.3 129.6,131.2 127.5,131.2 126.5,128.7ZM67.0,103.4 68.0,103.2 70.4,106.2 69.6,106.7ZM70.4,115.7 72.3,116.5 71.9,117.7 70.6,117.0ZM71.0,133.5 73.2,132.9 73.0,134.0 71.3,134.3ZM65.9,135.0 67.6,134.7 67.4,135.7 66.0,135.9ZM62.2,136.3 64.2,135.5 63.9,136.4 62.4,137.0ZM67.0,209.3 68.0,209.1 67.8,210.7 67.2,210.7ZM71.0,208.4 72.4,207.2 74.1,207.2 74.3,208.8 73.2,209.9 71.8,209.4ZM83.8,213.6 85.3,211.9 86.1,212.3 87.8,214.5 87.1,214.9 84.2,214.8ZM91.0,216.2 95.2,216.0 95.3,216.7 91.2,216.9ZM93.9,219.1 94.9,219.0 95.0,219.9 94.0,220.0ZM96.5,218.2 97.8,218.2 99.2,219.1 101.4,219.8 101.7,220.6 99.8,221.0 98.1,220.2 96.9,219.1ZM103.2,224.7 105.6,225.6 109.3,227.2 112.0,230.3 111.1,231.9 109.6,232.6 107.3,233.5 104.7,235.2 103.3,234.2 103.0,232.5 102.0,229.6 102.4,228.2 103.4,227.3Z" fill="#A6D2FD"/>
<path class="thin" d="M145.1,127.5 149.4,130.2 149.0,133.7 151.3,135.2 155.1,135.7 156.5,137.0 159.2,137.3 162.6,137.9 164.8,138.0 168.0,138.6 178.1,142.1M185.1,123.5 178.6,139.3 178.1,142.1M178.1,142.1 178.4,145.7 175.8,148.4 172.5,151.6 172.6,153.8 167.0,167.2M129.3,152.5 141.3,157.7 151.1,161.6M151.1,161.6 167.0,167.2M167.0,167.2 183.2,172.1M183.2,172.1 199.8,176.2M151.1,161.6 141.8,180.8 146.9,191.1 152.4,201.4 158.5,211.8 162.8,218.7M183.2,172.1 171.4,205.7M209.4,185.4 202.7,213.1M199.8,176.2 197.9,182.9 209.4,185.4M209.4,185.4 223.8,187.9 238.5,189.9M199.8,176.2 204.4,159.9M204.4,159.9 202.2,158.9 198.0,157.9 194.3,157.3 192.9,153.8 192.0,148.3 188.7,148.4 190.2,146.5 192.2,141.8 191.0,141.6 187.5,134.9 187.2,131.2 189.6,125.0M204.4,159.9 205.4,156.5 213.2,158.2 223.6,160.1 231.6,161.3 242.2,162.7M202.7,213.1 192.7,254.3M211.4,254.1 211.1,252.4 223.8,254.2 236.6,255.6 241.0,222.4M241.0,222.4 241.4,218.8M241.0,222.4 260.7,224.1 259.9,238.3 261.9,239.6 269.4,241.8 272.9,242.0 276.3,243.8 279.5,245.1 283.3,244.3 287.5,245.0 292.4,244.0 298.2,245.6M243.0,156.4 253.5,157.5 263.9,158.2 274.4,158.5 282.3,158.6M279.0,138.5 279.5,144.3 280.8,148.2 281.1,152.2 282.3,158.6M282.3,158.6 280.8,160.9 282.9,162.9 283.1,175.1M283.1,175.1 282.3,177.9 283.2,182.0M240.3,176.2 255.9,177.6 271.5,178.4 274.4,180.1 277.8,179.6 281.2,181.0 283.2,182.0M283.2,182.0 286.5,190.7 287.0,193.9 287.5,195.4M287.5,195.4 290.5,199.5M249.6,198.1 261.2,198.9 270.0,199.4 281.7,199.6 290.5,199.5M290.5,199.5 293.0,201.2 291.9,202.7 295.1,205.7 295.9,221.0M283.1,175.1 296.3,174.7 312.2,173.5M287.5,195.4 298.3,195.0 311.7,194.1 313.6,195.5M305.2,152.0 304.3,152.8 304.6,156.6 302.0,160.0 303.1,161.3 302.5,163.7 302.7,165.7 304.4,166.8 306.7,167.8 309.4,170.0 311.8,171.5 312.2,173.5M312.2,173.5 313.0,176.6 316.3,180.1M316.3,180.1 318.0,182.1 319.6,184.5 317.8,187.1 315.0,188.1 315.2,192.3 313.6,195.5M313.6,195.5 314.0,198.7 314.6,200.3 318.7,203.1 320.0,205.5 322.7,205.4 322.8,207.2 322.2,210.4 325.6,212.2 328.5,216.2 331.2,218.2M316.3,180.1 332.4,178.1M314.0,152.4 322.9,154.9 326.8,155.9 328.6,158.7 330.3,160.2M335.0,183.4 338.1,199.9 338.2,202.5 339.1,204.7 337.4,208.1 337.0,211.4M339.0,182.4 350.5,180.8M350.5,180.8 358.2,179.0M350.5,180.8 354.8,198.9M328.7,225.7 327.6,229.5 327.1,232.3 325.7,233.4M325.7,233.4 324.3,237.3 322.3,241.2 321.4,245.7 321.6,248.7M321.6,248.7 324.1,253.5 321.1,259.6 319.9,263.8 333.7,262.4 333.2,265.1 335.8,268.4M301.5,250.0 311.6,249.5 321.6,248.7M329.4,221.9 338.7,220.7 338.5,219.4 354.0,217.2 366.4,215.0M366.4,215.0 370.6,211.5 373.5,208.2 375.1,206.0M366.4,215.0 378.9,212.1M378.9,212.1 387.8,209.8 396.7,207.2 414.2,201.5M378.9,212.1 377.9,215.9 374.3,217.7 369.5,222.0 366.3,224.0 365.2,227.2M365.2,227.2 356.8,229.0M356.8,229.0 339.7,231.6M339.7,231.6 325.7,233.4M339.7,231.6 340.5,232.3 341.7,254.6 344.1,265.8M356.8,229.0 363.2,243.6 365.4,246.8 366.3,252.7 367.7,257.0M367.7,257.0 349.1,260.3 351.1,263.1 350.6,265.6M367.7,257.0 369.2,259.1 388.4,255.8 389.9,257.0 389.4,254.1 393.3,253.3M394.3,242.8 391.6,240.7 387.9,237.0 383.8,234.4 378.4,231.7 374.9,229.0 372.1,227.9 373.1,225.4M365.2,227.2 373.1,225.4M373.1,225.4 377.6,222.9 386.0,221.1 386.8,221.2 388.4,222.9 395.5,221.0 405.1,225.4M396.0,186.7 394.9,185.0 392.3,185.1 391.3,186.5 389.2,186.4 386.1,190.7 385.0,187.1M379.0,188.8 385.0,187.1M385.0,187.1 395.5,183.9 405.9,180.4M377.0,182.6 379.0,188.8M405.9,180.4 406.6,179.2 407.7,179.1M407.7,181.0 407.7,179.1M405.9,180.4 409.9,188.5 413.6,187.1M407.7,179.1 409.1,177.8 410.3,175.1 406.6,173.1 406.1,170.9 407.3,167.5M407.3,167.5 404.8,166.6 402.1,164.6 388.9,169.1 378.2,172.2 377.6,170.4M407.3,167.5 412.6,168.1 412.9,170.3M414.0,167.6 414.3,165.9 413.7,165.5 411.7,160.6M411.7,160.6 410.9,155.6M410.9,155.6 408.5,150.2 407.8,150.5 406.3,146.7 404.0,141.6M410.9,155.6 415.1,154.1M415.1,154.1 421.1,151.7 422.1,150.0 423.1,149.5M415.1,154.1 413.7,150.4 412.8,144.0 414.1,141.2 413.1,137.9M411.7,160.6 420.7,157.1M420.7,157.1 422.9,156.1 425.9,158.8M420.7,157.1 422.6,161.6M423.0,148.1 420.6,146.6 414.2,135.2"/>
<path class="thick" d="M245.9,136.6 243.0,156.4M243.0,156.4 242.2,162.7M242.2,162.7 240.3,176.2M240.3,176.2 238.5,189.9M238.5,189.9 250.2,191.1 249.6,198.1M249.6,198.1 247.6,219.4M241.4,218.8 247.6,219.4M202.7,213.1 220.4,216.2 229.4,217.4 241.4,218.8M171.4,205.7 186.9,209.7 202.7,213.1M171.4,205.7 169.5,211.3 164.8,210.8 164.3,215.2 162.8,218.7M162.8,218.7 162.7,220.2 162.9,225.0 161.7,225.8 159.7,228.7 158.1,229.9 158.6,233.2 157.1,234.9 156.4,234.7M247.6,219.4 260.5,220.4 273.3,221.0 286.2,221.2 295.9,221.0M295.9,221.0 296.1,224.6M296.1,224.6 297.8,232.6 298.2,245.6M298.2,245.6 301.3,246.1 301.5,250.0M301.5,250.0 301.9,257.6 303.4,260.5 305.8,263.5 305.6,267.1 304.6,269.8 305.0,272.0 304.1,274.7M296.1,224.6 309.1,223.9 325.2,222.4 324.3,226.2 328.7,225.7M331.2,218.2 330.6,221.1 329.4,221.9M329.4,221.9 328.7,225.7M331.2,218.2 334.5,217.1 335.0,214.6 337.0,211.4M337.0,211.4 339.8,209.9 343.0,210.6 345.9,209.3 347.4,207.2 350.6,205.8 352.0,202.2 354.8,198.9M354.8,198.9 356.8,198.5 359.1,200.3 362.1,200.7 366.4,199.2 369.5,200.8M369.5,200.8 371.3,197.2 373.3,195.6 374.3,192.4 377.1,189.5 377.0,182.6M377.0,182.6 374.1,173.5M375.1,206.0 371.8,204.5 370.0,202.6 369.5,200.8M375.1,206.0 377.5,207.9 380.2,206.9 385.3,203.6 385.1,201.1 386.0,198.9 386.6,195.0 389.1,195.6 392.0,190.4 392.1,187.0 395.9,188.2 396.0,186.7M396.0,186.7 397.8,186.9 399.5,188.0 401.1,188.6 401.1,192.0 407.4,192.5"/>
<rect class="box" x="156.0" y="145.8" width="46.0" height="29.8"/>
<text class="ln" x="179.0" y="160.7" textLength="31.1" lengthAdjust="spacingAndGlyphs" style="font-size:10.48px">WEST</text>
<text class="lv" x="179.0" y="170.9" textLength="22.4" lengthAdjust="spacingAndGlyphs" style="font-size:10.28px">6.8%</text>
<rect class="box" x="261.0" y="168.6" width="72.7" height="31.1"/>
<text class="ln" x="296.1" y="184.7" textLength="52.1" lengthAdjust="spacingAndGlyphs">MIDWEST</text>
<text class="lv" x="296.1" y="196.8" textLength="26.5" lengthAdjust="spacingAndGlyphs">-6.3%</text>
<rect class="box" x="366.0" y="139.3" width="77.6" height="30.5"/>
<text class="ln" x="404.8" y="154.9" textLength="67.1" lengthAdjust="spacingAndGlyphs">NORTHEAST</text>
<text class="lv" x="404.8" y="166.8" textLength="28.3" lengthAdjust="spacingAndGlyphs">11.7%</text>
<rect class="box" x="205.3" y="228.4" width="77.8" height="29.4"/>
<text class="ln" x="244.2" y="243.8" textLength="69.4" lengthAdjust="spacingAndGlyphs">SOUTHWEST</text>
<text class="lv" x="244.2" y="255.7" textLength="23.1" lengthAdjust="spacingAndGlyphs">3.8%</text>
<rect class="box" x="316.0" y="229.3" width="82.4" height="31.1"/>
<text class="ln" x="357.2" y="244.9" textLength="66.7" lengthAdjust="spacingAndGlyphs">SOUTHEAST</text>
<text class="lv" x="357.2" y="256.8" textLength="26.5" lengthAdjust="spacingAndGlyphs">-8.5%</text>
</g>
<text class="t" x="603.7" y="394.3" textLength="383.3" lengthAdjust="spacingAndGlyphs">Spend – regional year-over-year % change</text>
<rect x="162.00" y="727.2" width="52.60" height="17.3" fill="#9A0828"/>
<rect x="214.55" y="727.2" width="52.60" height="17.3" fill="#D01B26"/>
<rect x="267.10" y="727.2" width="52.60" height="17.3" fill="#EA4747"/>
<rect x="319.65" y="727.2" width="52.60" height="17.3" fill="#E55A02"/>
<rect x="372.20" y="727.2" width="52.60" height="17.3" fill="#FBAF0C"/>
<rect x="424.75" y="727.2" width="52.60" height="17.3" fill="#FCC650"/>
<rect x="477.30" y="727.2" width="52.60" height="17.3" fill="#818086"/>
<rect x="529.85" y="727.2" width="52.60" height="17.3" fill="#CBCBD1"/>
<rect x="582.40" y="727.2" width="52.60" height="17.3" fill="#A6D2FD"/>
<rect x="634.95" y="727.2" width="52.60" height="17.3" fill="#2486F5"/>
<rect x="687.50" y="727.2" width="52.60" height="17.3" fill="#A2DCA8"/>
<rect x="740.05" y="727.2" width="52.60" height="17.3" fill="#349C3C"/>
<rect x="792.60" y="727.2" width="52.60" height="17.3" fill="#2A7D1F"/>
<rect x="845.15" y="727.2" width="52.60" height="17.3" fill="#1D5C09"/>
<rect x="214.05" y="727.2" width="1" height="17.3" fill="#fff" fill-opacity=".75"/>
<rect x="266.60" y="727.2" width="1" height="17.3" fill="#fff" fill-opacity=".75"/>
<rect x="319.15" y="727.2" width="1" height="17.3" fill="#fff" fill-opacity=".75"/>
<rect x="371.70" y="727.2" width="1" height="17.3" fill="#fff" fill-opacity=".75"/>
<rect x="424.25" y="727.2" width="1" height="17.3" fill="#fff" fill-opacity=".75"/>
<rect x="476.80" y="727.2" width="1" height="17.3" fill="#fff" fill-opacity=".75"/>
<rect x="529.35" y="727.2" width="1" height="17.3" fill="#fff" fill-opacity=".75"/>
<rect x="581.90" y="727.2" width="1" height="17.3" fill="#fff" fill-opacity=".75"/>
<rect x="634.45" y="727.2" width="1" height="17.3" fill="#fff" fill-opacity=".75"/>
<rect x="687.00" y="727.2" width="1" height="17.3" fill="#fff" fill-opacity=".75"/>
<rect x="739.55" y="727.2" width="1" height="17.3" fill="#fff" fill-opacity=".75"/>
<rect x="792.10" y="727.2" width="1" height="17.3" fill="#fff" fill-opacity=".75"/>
<rect x="844.65" y="727.2" width="1" height="17.3" fill="#fff" fill-opacity=".75"/>
<text class="lg" x="161.5" y="763.2">&gt;</text>
<text class="lg" text-anchor="middle" transform="translate(214.6,763.2) scale(0.92,1)">-30%</text>
<text class="lg" text-anchor="middle" transform="translate(267.1,763.2) scale(0.92,1)">-25%</text>
<text class="lg" text-anchor="middle" transform="translate(319.6,763.2) scale(0.92,1)">-20%</text>
<text class="lg" text-anchor="middle" transform="translate(372.2,763.2) scale(0.92,1)">-15%</text>
<text class="lg" text-anchor="middle" transform="translate(424.8,763.2) scale(0.92,1)">-10%</text>
<text class="lg" text-anchor="middle" transform="translate(477.3,763.2) scale(0.92,1)">-5%</text>
<text class="lg" text-anchor="middle" transform="translate(529.8,763.2) scale(0.92,1)">0%</text>
<text class="lg" text-anchor="middle" transform="translate(582.4,763.2) scale(0.92,1)">+5%</text>
<text class="lg" text-anchor="middle" transform="translate(635.0,763.2) scale(0.92,1)">+10%</text>
<text class="lg" text-anchor="middle" transform="translate(687.5,763.2) scale(0.92,1)">+15%</text>
<text class="lg" text-anchor="middle" transform="translate(740.0,763.2) scale(0.92,1)">+20%</text>
<text class="lg" text-anchor="middle" transform="translate(792.6,763.2) scale(0.92,1)">+25%</text>
<text class="lg" text-anchor="middle" transform="translate(845.1,763.2) scale(0.92,1)">+30%</text>
<text class="lg" text-anchor="end" x="898" y="763.2">&lt;</text>
</svg></body></html>
